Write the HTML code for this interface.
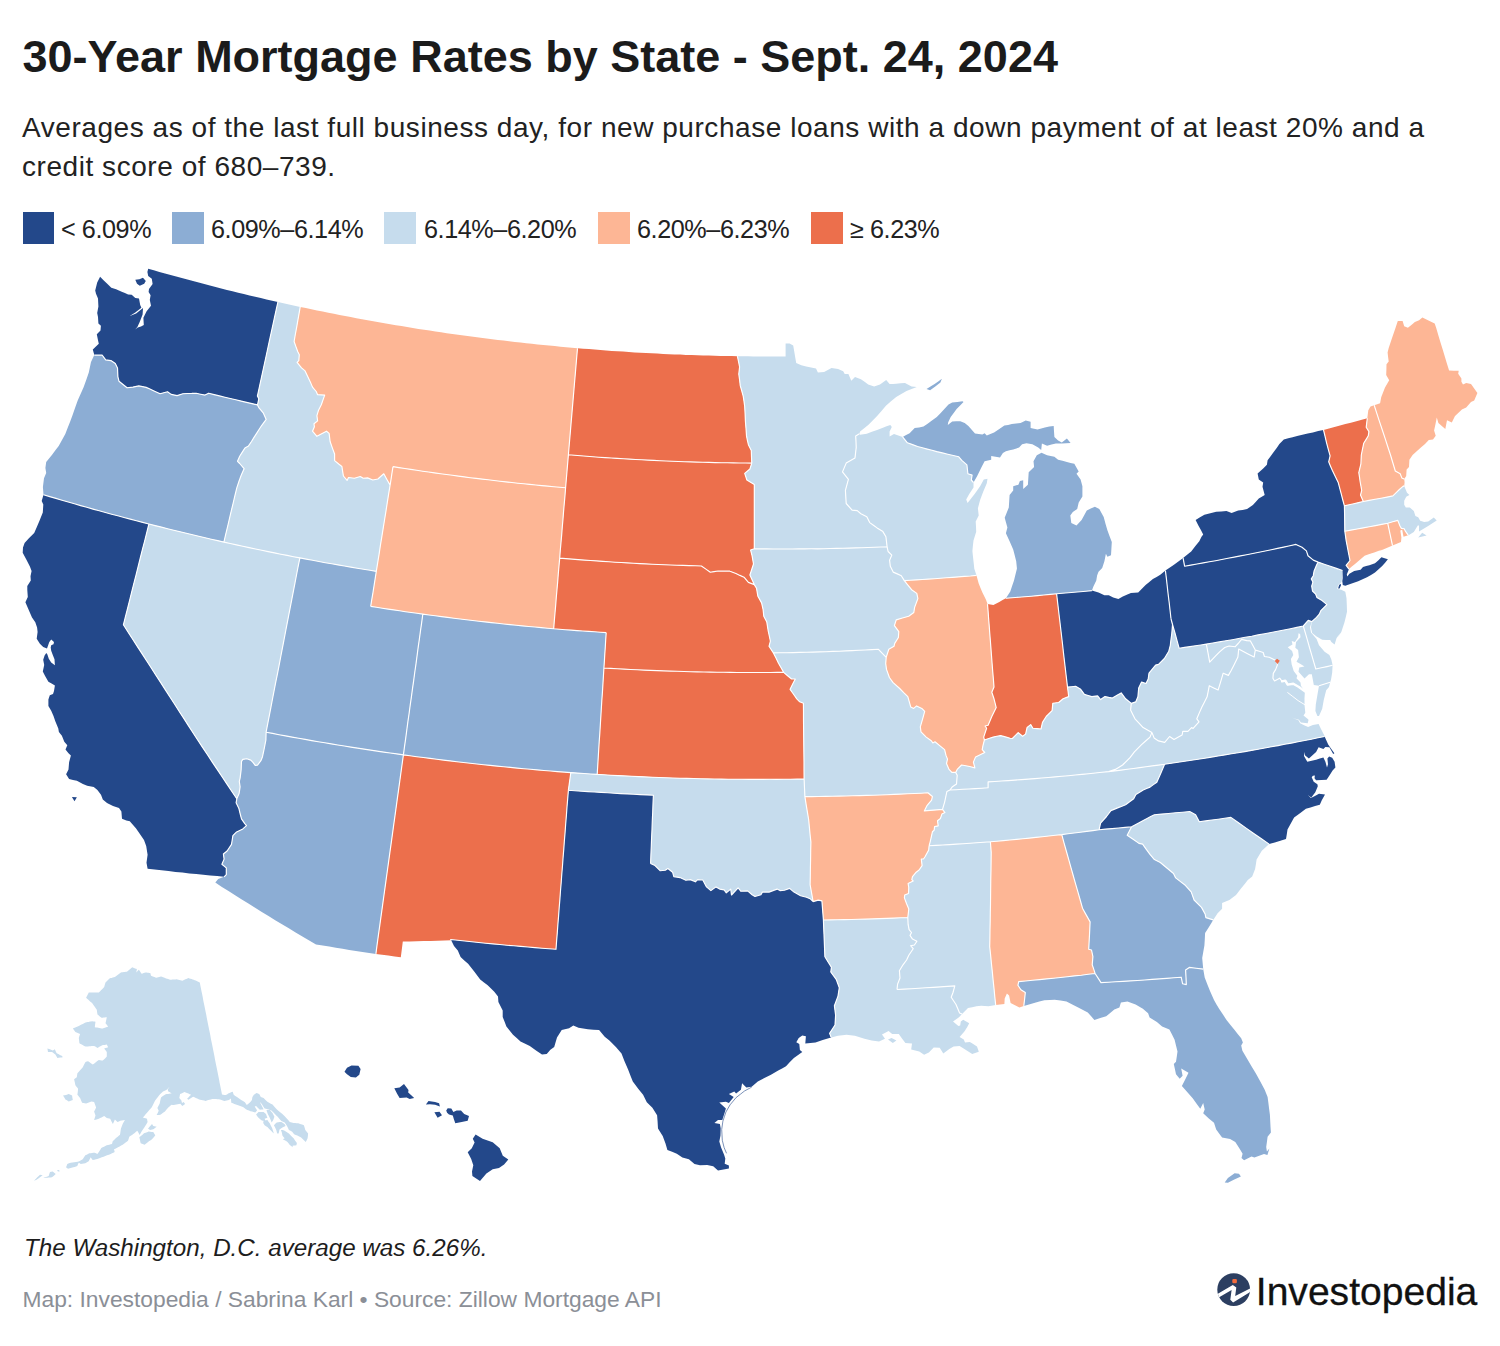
<!DOCTYPE html>
<html lang="en">
<head>
<meta charset="utf-8">
<title>30-Year Mortgage Rates by State - Sept. 24, 2024</title>
<style>
  html,body{margin:0;padding:0;background:#fff;}
  body{width:1500px;height:1346px;position:relative;overflow:hidden;font-family:"Liberation Sans",sans-serif;color:#1d1d1d;}
  .abs{position:absolute;white-space:nowrap;line-height:1;transform-origin:0 0;}
  #title{left:22.5px;top:34px;font-size:45px;font-weight:700;color:#1b1b1b;}
  #sub1{left:22px;top:113.5px;font-size:28px;letter-spacing:0.55px;color:#222;}
  #sub2{left:22px;top:152.5px;font-size:28px;letter-spacing:0.55px;color:#222;}
  .sw{position:absolute;top:212px;width:31.5px;height:31.5px;}
  .lg{font-size:25.2px;top:216.8px;letter-spacing:-0.42px;color:#222;}
  #note{left:24px;top:1235.7px;font-size:24.2px;font-style:italic;color:#1d1d1d;}
  #byline{left:22.5px;top:1288px;font-size:22.8px;color:#8b8f97;}
  #map{position:absolute;left:0;top:0;}
  #logo{position:absolute;left:0;top:0;}
</style>
</head>
<body>
<div id="title" class="abs">30-Year Mortgage Rates by State - Sept. 24, 2024</div>
<div id="sub1" class="abs">Averages as of the last full business day, for new purchase loans with a down payment of at least 20% and a</div>
<div id="sub2" class="abs">credit score of 680–739.</div>

<div class="sw" style="left:22.5px;background:#23488a"></div><div class="abs lg" id="l1" style="left:61px">&lt; 6.09%</div>
<div class="sw" style="left:172px;background:#8cadd4"></div><div class="abs lg" id="l2" style="left:211px">6.09%–6.14%</div>
<div class="sw" style="left:384px;background:#c6dced"></div><div class="abs lg" id="l3" style="left:424px">6.14%–6.20%</div>
<div class="sw" style="left:598px;background:#fdb695"></div><div class="abs lg" id="l4" style="left:637px">6.20%–6.23%</div>
<div class="sw" style="left:811px;background:#ec6f4c"></div><div class="abs lg" id="l5" style="left:850px">≥ 6.23%</div>

<svg id="map" width="1500" height="1346" viewBox="0 0 1500 1346">
<g>
<path id="WA" fill="#23488a" d="M94.3 355.1L92.8 349.4L98.8 343.8L98.0 340.2L96.8 334.2L100.5 330.6L100.9 325.8L98.4 323.4L98.0 317.0L97.2 312.9L98.4 306.5L98.0 298.5L96.0 293.7L95.2 290.5L97.2 282.5L100.1 276.8L103.8 280.5L107.5 284.1L111.3 287.7L116.1 289.3L118.9 290.5L121.7 291.7L124.9 293.1L128.1 294.5L131.7 294.7L135.3 298.1L139.0 298.5L140.2 304.9L141.4 307.7L135.3 312.5L129.3 316.3L136.1 313.6L143.0 308.1L142.6 314.5L139.8 321.8L137.4 327.0L132.5 332.6L129.7 329.8L129.3 327.4L131.3 324.2L130.1 328.2L132.5 331.4L137.8 327.4L141.0 326.4L143.8 325.0L143.4 317.8L146.6 311.3L151.0 305.7L149.8 300.1L150.6 295.3L148.6 292.1L149.0 288.9L152.6 284.1L151.8 278.8L148.2 276.0L147.4 272.0L148.2 268.7L153.8 270.3L159.4 271.9L165.0 273.5L170.6 275.0L176.2 276.6L181.8 278.1L187.4 279.6L193.0 281.1L198.7 282.6L204.3 284.1L209.9 285.6L215.6 287.0L221.2 288.5L226.9 289.9L232.5 291.3L238.2 292.7L243.8 294.0L249.5 295.4L255.2 296.7L260.8 298.1L266.5 299.4L272.2 300.7L277.9 302.0L276.1 310.2L274.3 318.4L272.5 326.7L270.7 334.9L268.9 343.2L267.1 351.5L265.3 359.8L263.5 368.0L261.7 376.3L259.9 384.6L258.1 392.9L257.4 395.9L258.8 398.8L257.5 404.9L252.0 403.6L246.6 402.4L241.2 401.1L235.8 399.8L230.3 398.5L224.9 397.2L219.5 395.9L214.1 394.6L208.7 393.2L205.0 395.1L200.6 394.2L196.2 393.2L191.8 393.4L187.4 393.5L182.9 393.7L177.1 395.6L171.2 394.4L167.5 391.8L163.8 392.7L160.1 393.7L156.8 392.2L153.5 390.7L149.9 389.0L146.2 387.4L142.5 386.6L138.8 385.9L132.9 387.1L127.1 387.8L123.0 384.5L119.0 381.2L117.9 376.8L117.5 367.9L115.3 363.5L110.9 360.6L105.7 359.9L102.1 355.0L98.2 355.1ZM135.3 279.7L139.4 279.3L143.0 277.8L145.8 280.9L144.2 283.7L139.8 285.7L137.0 283.7Z"/>
<path id="OR" fill="#8cadd4" d="M43.5 494.7L42.9 487.1L44.0 478.2L46.2 473.1L45.4 467.9L46.2 462.1L52.1 454.7L55.4 450.3L58.7 445.9L62.0 440.0L65.3 434.1L67.7 427.7L70.2 421.4L72.6 415.0L75.2 407.6L77.8 400.3L80.7 393.7L83.7 387.1L86.3 379.7L88.8 372.4L89.9 367.2L91.0 362.1L94.3 355.1L98.2 355.1L102.1 355.0L105.7 359.9L110.9 360.6L115.3 363.5L117.5 367.9L117.9 376.8L119.0 381.2L123.0 384.5L127.1 387.8L132.9 387.1L138.8 385.9L142.5 386.6L146.2 387.4L149.9 389.0L153.5 390.7L156.8 392.2L160.1 393.7L163.8 392.7L167.5 391.8L171.2 394.4L177.1 395.6L182.9 393.7L187.4 393.5L191.8 393.4L196.2 393.2L200.6 394.2L205.0 395.1L208.7 393.2L214.1 394.6L219.5 395.9L224.9 397.2L230.3 398.5L235.8 399.8L241.2 401.1L246.6 402.4L252.0 403.6L257.5 404.9L258.8 407.6L263.2 412.8L266.2 419.4L261.8 425.3L259.2 429.3L256.6 433.4L254.0 437.4L251.5 441.5L248.5 445.9L244.9 448.1L242.3 452.1L239.7 456.2L237.5 461.3L239.7 463.5L244.1 468.7L241.2 475.3L239.0 481.2L236.8 487.9L234.9 495.7L233.1 503.4L231.2 511.1L229.4 518.9L227.6 526.6L225.7 534.3L223.9 542.1L217.6 540.6L211.3 539.2L205.1 537.8L198.8 536.3L192.6 534.8L186.3 533.3L180.1 531.8L173.8 530.3L167.6 528.7L161.4 527.1L155.1 525.6L148.9 524.0L142.7 522.4L136.4 520.8L130.2 519.1L124.0 517.5L117.8 515.8L111.6 514.2L105.4 512.5L99.2 510.8L93.0 509.1L86.8 507.3L80.6 505.6L74.4 503.8L68.2 502.0L62.0 500.2L55.9 498.4L49.7 496.6Z"/>
<path id="CA" fill="#23488a" d="M147.6 868.7L146.5 862.8L147.6 854.7L146.2 845.9L144.0 840.0L139.9 834.1L135.9 828.2L130.0 821.6L129.9 821.2L126.3 820.5L122.0 818.7L121.4 811.5L119.0 807.9L113.0 806.1L107.0 803.1L102.8 799.5L101.0 794.7L97.4 789.9L93.8 786.9L87.2 785.7L82.9 783.9L76.9 780.8L73.0 779.9L69.1 779.0L66.1 774.2L68.5 769.4L69.1 762.2L70.9 755.6L68.5 753.2L65.5 749.6L67.3 745.3L64.3 741.7L61.9 735.7L58.9 732.1L58.3 728.5L55.3 721.3L53.5 716.0L51.2 710.7L48.4 706.0L48.4 699.5L49.8 695.3L53.0 693.9L54.0 691.1L54.9 685.5L51.6 683.6L48.4 681.7L45.1 676.1L42.8 671.4L44.2 664.9L43.2 659.7L44.6 655.5L46.3 652.9L47.4 654.6L48.8 658.8L51.2 662.5L54.9 665.3L54.5 659.2L52.6 654.6L51.2 650.8L50.7 647.6L51.2 645.2L53.5 644.3L54.0 641.9L51.2 639.6L49.3 641.9L47.0 648.5L43.2 647.1L39.9 643.8L36.7 638.7L37.6 632.1L37.1 627.4L35.3 622.3L32.0 617.6L28.2 608.7L25.4 602.2L27.8 597.0L27.3 590.0L27.3 585.9L30.8 580.5L30.5 576.3L31.6 570.9L29.9 566.6L26.7 560.2L22.7 552.7L23.0 547.4L24.6 543.1L28.9 538.3L34.2 532.9L36.4 528.1L39.6 520.6L42.8 512.6L43.3 504.6L41.7 500.9L43.5 494.7L49.7 496.6L55.9 498.4L62.0 500.2L68.2 502.0L74.4 503.8L80.6 505.6L86.8 507.3L93.0 509.1L99.2 510.8L105.4 512.5L111.6 514.2L117.8 515.8L124.0 517.5L130.2 519.1L136.4 520.8L142.7 522.4L148.9 524.0L146.8 532.4L144.7 540.8L142.5 549.1L140.4 557.5L138.3 565.9L136.2 574.4L134.0 582.8L131.9 591.2L129.8 599.6L127.7 608.0L125.5 616.4L123.4 624.8L128.0 632.0L132.7 639.2L137.3 646.4L142.0 653.6L146.6 660.8L151.3 668.0L155.9 675.2L160.6 682.4L165.2 689.6L169.8 696.8L174.5 704.0L179.1 711.2L183.8 718.4L188.4 725.6L193.0 732.8L197.7 740.0L202.6 747.4L207.5 754.7L212.3 762.1L217.2 769.4L222.1 776.8L227.0 784.1L231.9 791.5L236.8 798.8L236.1 802.8L238.8 808.2L240.1 813.5L241.5 818.9L244.8 823.6L246.5 825.6L242.8 828.9L236.6 831.9L232.9 835.6L232.2 840.0L231.5 844.4L227.1 851.0L223.4 854.0L224.1 859.1L221.9 864.3L226.3 867.9L226.3 874.6L224.1 876.8L217.2 876.1L210.2 875.5L203.3 874.8L196.3 874.1L189.4 873.4L182.4 872.6L175.5 871.9L168.5 871.1L161.5 870.3L154.6 869.5ZM71.9 797.1L76.9 797.3L74.5 801.3Z"/>
<path id="NV" fill="#c6dced" d="M148.9 524.0L155.1 525.6L161.4 527.1L167.6 528.7L173.8 530.3L180.1 531.8L186.3 533.3L192.6 534.8L198.8 536.3L205.1 537.8L211.3 539.2L217.6 540.6L223.9 542.1L230.2 543.5L236.5 544.9L242.8 546.2L249.1 547.6L255.5 549.0L261.8 550.3L268.1 551.6L274.5 552.9L280.8 554.2L287.2 555.4L293.5 556.7L299.9 557.9L298.2 566.2L296.6 574.5L295.0 582.8L293.4 591.1L291.8 599.4L290.2 607.6L288.6 615.9L287.0 624.2L285.4 632.5L283.8 640.8L282.2 649.1L280.6 657.5L279.0 665.8L277.4 674.1L275.7 682.4L274.1 690.7L272.5 699.0L270.9 707.3L269.3 715.6L267.7 723.9L266.1 732.2L265.9 740.0L264.2 748.7L262.5 756.7L260.9 760.7L257.5 765.1L255.2 765.4L253.2 762.7L250.8 760.1L246.8 758.7L242.8 759.4L241.5 761.4L241.1 770.1L240.1 778.1L239.3 781.4L240.1 786.8L239.1 793.5L236.8 798.8L231.9 791.5L227.0 784.1L222.1 776.8L217.2 769.4L212.3 762.1L207.5 754.7L202.6 747.4L197.7 740.0L193.0 732.8L188.4 725.6L183.8 718.4L179.1 711.2L174.5 704.0L169.8 696.8L165.2 689.6L160.6 682.4L155.9 675.2L151.3 668.0L146.6 660.8L142.0 653.6L137.3 646.4L132.7 639.2L128.0 632.0L123.4 624.8L125.5 616.4L127.7 608.0L129.8 599.6L131.9 591.2L134.0 582.8L136.2 574.4L138.3 565.9L140.4 557.5L142.5 549.1L144.7 540.8L146.8 532.4Z"/>
<path id="ID" fill="#c6dced" d="M277.9 302.0L283.5 303.2L289.0 304.5L294.6 305.7L300.2 306.9L299.0 313.8L297.8 320.7L296.6 327.6L295.3 334.5L294.1 341.5L295.9 346.6L297.8 351.8L299.3 354.7L298.8 360.6L297.1 362.4L301.5 367.9L305.1 370.9L307.7 376.4L310.3 381.9L312.5 387.1L316.2 391.5L317.6 394.7L321.2 394.9L324.7 395.1L323.0 399.9L321.3 404.7L318.4 410.6L316.9 415.7L317.6 420.9L314.0 423.8L314.4 426.8L312.5 431.2L316.9 436.3L321.7 433.8L326.5 431.2L329.1 433.4L330.1 441.5L332.4 448.1L334.6 454.0L334.6 460.6L339.0 464.3L341.9 466.5L342.6 471.2L343.4 476.0L347.1 480.4L348.5 477.5L354.4 478.2L360.3 476.5L363.2 478.2L367.6 477.9L372.8 480.0L377.9 479.0L383.8 473.8L386.9 479.5L390.1 485.1L388.7 493.7L387.3 502.3L386.0 510.9L384.6 519.5L383.2 528.2L381.8 536.8L380.4 545.4L379.1 554.1L377.7 562.7L376.3 571.4L369.9 570.3L363.5 569.3L357.2 568.2L350.8 567.1L344.4 566.0L338.0 564.9L331.7 563.8L325.3 562.7L318.9 561.5L312.6 560.3L306.2 559.1L299.9 557.9L293.5 556.7L287.2 555.4L280.8 554.2L274.5 552.9L268.1 551.6L261.8 550.3L255.5 549.0L249.1 547.6L242.8 546.2L236.5 544.9L230.2 543.5L223.9 542.1L225.7 534.3L227.6 526.6L229.4 518.9L231.2 511.1L233.1 503.4L234.9 495.7L236.8 487.9L239.0 481.2L241.2 475.3L244.1 468.7L239.7 463.5L237.5 461.3L239.7 456.2L242.3 452.1L244.9 448.1L248.5 445.9L251.5 441.5L254.0 437.4L256.6 433.4L259.2 429.3L261.8 425.3L266.2 419.4L263.2 412.8L258.8 407.6L257.5 404.9L258.8 398.8L257.4 395.9L258.1 392.9L259.9 384.6L261.7 376.3L263.5 368.0L265.3 359.8L267.1 351.5L268.9 343.2L270.7 334.9L272.5 326.7L274.3 318.4L276.1 310.2Z"/>
<path id="MT" fill="#fdb695" d="M300.2 306.9L305.8 308.1L311.4 309.3L317.0 310.4L322.7 311.6L328.3 312.7L333.9 313.8L339.5 314.9L345.1 316.0L350.7 317.1L356.4 318.2L362.0 319.2L367.6 320.2L373.3 321.2L378.9 322.3L384.5 323.2L390.2 324.2L395.8 325.2L401.5 326.1L407.1 327.1L412.8 328.0L418.4 328.9L424.1 329.8L429.7 330.6L435.4 331.5L441.0 332.3L446.7 333.2L452.4 334.0L458.0 334.8L463.7 335.6L469.4 336.3L475.1 337.1L480.7 337.8L486.4 338.5L492.1 339.3L497.8 340.0L503.5 340.6L509.1 341.3L514.8 342.0L520.5 342.6L526.2 343.2L531.9 343.8L537.6 344.4L543.3 345.0L549.0 345.6L554.7 346.1L560.4 346.7L566.1 347.2L571.8 347.7L577.5 348.2L576.8 356.3L576.1 364.5L575.4 372.7L574.7 380.8L574.0 389.0L573.3 397.2L572.6 405.4L571.9 413.6L571.2 421.8L570.5 430.1L569.8 438.3L569.1 446.5L568.4 454.8L567.7 463.0L567.0 471.2L566.3 479.5L565.6 487.7L559.7 487.2L553.7 486.7L547.7 486.1L541.7 485.6L535.8 485.0L529.8 484.4L523.8 483.8L517.9 483.2L511.9 482.5L505.9 481.9L500.0 481.2L494.0 480.5L488.1 479.8L482.1 479.1L476.2 478.4L470.2 477.7L464.3 476.9L458.3 476.1L452.4 475.3L446.4 474.5L440.5 473.7L434.5 472.9L428.6 472.0L422.7 471.2L416.7 470.3L410.8 469.4L404.9 468.5L398.9 467.6L393.0 466.6L392.0 472.8L391.1 478.9L390.1 485.1L386.9 479.5L383.8 473.8L377.9 479.0L372.8 480.0L367.6 477.9L363.2 478.2L360.3 476.5L354.4 478.2L348.5 477.5L347.1 480.4L343.4 476.0L342.6 471.2L341.9 466.5L339.0 464.3L334.6 460.6L334.6 454.0L332.4 448.1L330.1 441.5L329.1 433.4L326.5 431.2L321.7 433.8L316.9 436.3L312.5 431.2L314.4 426.8L314.0 423.8L317.6 420.9L316.9 415.7L318.4 410.6L321.3 404.7L323.0 399.9L324.7 395.1L321.2 394.9L317.6 394.7L316.2 391.5L312.5 387.1L310.3 381.9L307.7 376.4L305.1 370.9L301.5 367.9L297.1 362.4L298.8 360.6L299.3 354.7L297.8 351.8L295.9 346.6L294.1 341.5L295.3 334.5L296.6 327.6L297.8 320.7L299.0 313.8Z"/>
<path id="WY" fill="#fdb695" d="M390.1 485.1L391.1 478.9L392.0 472.8L393.0 466.6L398.9 467.6L404.9 468.5L410.8 469.4L416.7 470.3L422.7 471.2L428.6 472.0L434.5 472.9L440.5 473.7L446.4 474.5L452.4 475.3L458.3 476.1L464.3 476.9L470.2 477.7L476.2 478.4L482.1 479.1L488.1 479.8L494.0 480.5L500.0 481.2L505.9 481.9L511.9 482.5L517.9 483.2L523.8 483.8L529.8 484.4L535.8 485.0L541.7 485.6L547.7 486.1L553.7 486.7L559.7 487.2L565.6 487.7L565.0 495.5L564.3 503.3L563.6 511.1L563.0 519.0L562.3 526.8L561.7 534.6L561.0 542.4L560.3 550.3L559.7 558.1L559.0 565.9L558.3 573.8L557.7 581.6L557.0 589.5L556.3 597.3L555.7 605.1L555.0 613.0L554.3 620.9L553.7 628.7L547.4 628.2L541.2 627.6L534.9 627.0L528.7 626.5L522.4 625.9L516.2 625.2L510.0 624.6L503.7 624.0L497.5 623.3L491.3 622.6L485.0 621.9L478.8 621.2L472.6 620.5L466.3 619.8L460.1 619.0L453.9 618.2L447.7 617.4L441.5 616.6L435.2 615.8L429.0 615.0L422.8 614.1L417.0 613.3L411.2 612.5L405.4 611.7L399.6 610.8L393.8 609.9L388.1 609.1L382.3 608.2L376.5 607.3L370.7 606.4L371.8 599.4L373.0 592.4L374.1 585.4L375.2 578.4L376.3 571.4L377.7 562.7L379.1 554.1L380.4 545.4L381.8 536.8L383.2 528.2L384.6 519.5L386.0 510.9L387.3 502.3L388.7 493.7Z"/>
<path id="UT" fill="#8cadd4" d="M299.9 557.9L306.2 559.1L312.6 560.3L318.9 561.5L325.3 562.7L331.7 563.8L338.0 564.9L344.4 566.0L350.8 567.1L357.2 568.2L363.5 569.3L369.9 570.3L376.3 571.4L375.2 578.4L374.1 585.4L373.0 592.4L371.8 599.4L370.7 606.4L376.5 607.3L382.3 608.2L388.1 609.1L393.8 609.9L399.6 610.8L405.4 611.7L411.2 612.5L417.0 613.3L422.8 614.1L421.7 622.4L420.5 630.7L419.4 638.9L418.2 647.2L417.1 655.5L416.0 663.8L414.8 672.0L413.7 680.3L412.5 688.6L411.4 696.9L410.2 705.2L409.1 713.5L407.9 721.7L406.8 730.0L405.7 738.3L404.5 746.6L403.4 754.9L396.8 753.9L390.2 753.0L383.7 752.1L377.1 751.1L370.6 750.1L364.0 749.1L357.5 748.1L350.9 747.1L344.4 746.0L337.8 745.0L331.3 743.9L324.8 742.8L318.2 741.7L311.7 740.6L305.2 739.4L298.7 738.2L292.1 737.1L285.6 735.9L279.1 734.7L272.6 733.4L266.1 732.2L267.7 723.9L269.3 715.6L270.9 707.3L272.5 699.0L274.1 690.7L275.7 682.4L277.4 674.1L279.0 665.8L280.6 657.5L282.2 649.1L283.8 640.8L285.4 632.5L287.0 624.2L288.6 615.9L290.2 607.6L291.8 599.4L293.4 591.1L295.0 582.8L296.6 574.5L298.2 566.2Z"/>
<path id="CO" fill="#8cadd4" d="M422.8 614.1L429.0 615.0L435.2 615.8L441.5 616.6L447.7 617.4L453.9 618.2L460.1 619.0L466.3 619.8L472.6 620.5L478.8 621.2L485.0 621.9L491.3 622.6L497.5 623.3L503.7 624.0L510.0 624.6L516.2 625.2L522.4 625.9L528.7 626.5L534.9 627.0L541.2 627.6L547.4 628.2L553.7 628.7L559.5 629.2L565.3 629.7L571.2 630.1L577.0 630.6L582.8 631.0L588.7 631.4L594.5 631.8L600.4 632.2L606.2 632.6L605.7 639.7L605.3 646.8L604.8 653.9L604.4 660.9L603.9 668.0L603.4 676.2L602.9 684.4L602.4 692.6L601.8 700.8L601.3 708.9L600.8 717.1L600.3 725.3L599.8 733.5L599.2 741.7L598.7 749.8L598.2 758.0L597.7 766.2L597.2 774.4L590.6 774.0L584.0 773.5L577.4 773.1L570.8 772.6L564.1 772.1L557.3 771.6L550.6 771.0L543.9 770.5L537.2 769.9L530.5 769.3L523.8 768.7L517.1 768.1L510.4 767.4L503.7 766.8L497.0 766.1L490.3 765.4L483.6 764.7L476.9 764.0L470.2 763.2L463.5 762.5L456.8 761.7L450.1 760.9L443.4 760.1L436.8 759.3L430.1 758.4L423.4 757.5L416.7 756.7L410.0 755.8L403.4 754.9L404.5 746.6L405.7 738.3L406.8 730.0L407.9 721.7L409.1 713.5L410.2 705.2L411.4 696.9L412.5 688.6L413.7 680.3L414.8 672.0L416.0 663.8L417.1 655.5L418.2 647.2L419.4 638.9L420.5 630.7L421.7 622.4Z"/>
<path id="AZ" fill="#8cadd4" d="M266.1 732.2L272.6 733.4L279.1 734.7L285.6 735.9L292.1 737.1L298.7 738.2L305.2 739.4L311.7 740.6L318.2 741.7L324.8 742.8L331.3 743.9L337.8 745.0L344.4 746.0L350.9 747.1L357.5 748.1L364.0 749.1L370.6 750.1L377.1 751.1L383.7 752.1L390.2 753.0L396.8 753.9L403.4 754.9L402.2 763.5L401.0 772.2L399.8 780.9L398.6 789.6L397.4 798.2L396.2 806.9L395.0 815.6L393.8 824.2L392.6 832.9L391.4 841.6L390.2 850.2L389.0 858.9L387.8 867.5L386.6 876.2L385.4 884.8L384.2 893.5L383.0 902.1L381.8 910.8L380.6 919.4L379.4 928.1L378.2 936.7L377.0 945.3L375.9 953.9L369.2 952.9L362.5 951.9L355.9 950.9L349.2 949.9L342.6 948.8L335.9 947.7L329.3 946.6L322.7 945.5L316.0 944.4L309.2 940.4L302.4 936.4L295.6 932.4L288.8 928.3L282.0 924.2L275.2 920.2L268.5 916.1L261.8 911.9L255.1 907.8L248.4 903.6L241.8 899.5L235.1 895.3L228.5 891.1L221.9 886.9L215.3 882.6L218.2 879.0L224.1 876.8L226.3 874.6L226.3 867.9L221.9 864.3L224.1 859.1L223.4 854.0L227.1 851.0L231.5 844.4L232.2 840.0L232.9 835.6L236.6 831.9L242.8 828.9L246.5 825.6L244.8 823.6L241.5 818.9L240.1 813.5L238.8 808.2L236.1 802.8L236.8 798.8L239.1 793.5L240.1 786.8L239.3 781.4L240.1 778.1L241.1 770.1L241.5 761.4L242.8 759.4L246.8 758.7L250.8 760.1L253.2 762.7L255.2 765.4L257.5 765.1L260.9 760.7L262.5 756.7L264.2 748.7L265.9 740.0Z"/>
<path id="NM" fill="#ec6f4c" d="M403.4 754.9L410.0 755.8L416.7 756.7L423.4 757.5L430.1 758.4L436.8 759.3L443.4 760.1L450.1 760.9L456.8 761.7L463.5 762.5L470.2 763.2L476.9 764.0L483.6 764.7L490.3 765.4L497.0 766.1L503.7 766.8L510.4 767.4L517.1 768.1L523.8 768.7L530.5 769.3L537.2 769.9L543.9 770.5L550.6 771.0L557.3 771.6L564.1 772.1L570.8 772.6L570.0 778.5L569.2 784.3L568.4 790.2L567.7 798.6L567.0 807.0L566.4 815.4L565.7 823.8L565.1 832.1L564.4 840.5L563.8 848.9L563.1 857.3L562.5 865.7L561.8 874.0L561.2 882.4L560.5 890.8L559.9 899.1L559.2 907.5L558.6 915.9L557.9 924.2L557.3 932.6L556.6 940.9L556.0 949.3L548.9 948.7L541.9 948.2L534.9 947.6L527.9 947.0L520.8 946.4L513.8 945.8L506.8 945.2L499.8 944.5L492.8 943.9L485.7 943.2L478.7 942.5L471.7 941.7L464.7 941.0L457.7 940.2L450.7 939.5L451.2 940.3L444.3 940.5L437.4 940.7L430.5 940.9L423.6 941.1L416.7 941.2L409.7 941.4L402.8 941.5L401.8 949.4L400.8 957.3L394.6 956.5L388.3 955.6L382.1 954.8L375.9 953.9L377.0 945.3L378.2 936.7L379.4 928.1L380.6 919.4L381.8 910.8L383.0 902.1L384.2 893.5L385.4 884.8L386.6 876.2L387.8 867.5L389.0 858.9L390.2 850.2L391.4 841.6L392.6 832.9L393.8 824.2L395.0 815.6L396.2 806.9L397.4 798.2L398.6 789.6L399.8 780.9L401.0 772.2L402.2 763.5Z"/>
<path id="ND" fill="#ec6f4c" d="M577.5 348.2L583.2 348.7L588.9 349.1L594.6 349.6L600.3 350.0L606.0 350.4L611.7 350.9L617.4 351.3L623.1 351.6L628.8 352.0L634.5 352.4L640.2 352.7L645.9 353.0L651.6 353.3L657.3 353.6L663.1 353.9L668.8 354.2L674.5 354.4L680.2 354.6L685.9 354.9L691.6 355.1L697.3 355.3L703.1 355.4L708.8 355.6L714.5 355.7L720.2 355.9L725.9 356.0L731.6 356.1L737.4 356.2L738.5 361.5L739.6 366.8L738.8 374.1L739.6 380.0L740.3 385.9L741.8 391.0L743.2 396.2L744.0 401.3L744.7 406.5L745.1 413.8L745.4 421.2L746.0 428.5L746.5 435.9L747.4 440.3L748.4 444.7L751.3 450.6L751.5 456.8L751.8 463.1L745.6 463.0L739.5 463.0L733.4 462.9L727.3 462.8L721.2 462.7L715.1 462.6L708.9 462.4L702.8 462.3L696.7 462.1L690.6 461.9L684.5 461.7L678.4 461.5L672.2 461.3L666.1 461.0L660.0 460.7L653.9 460.4L647.8 460.1L641.7 459.8L635.6 459.5L629.5 459.1L623.4 458.8L617.2 458.4L611.1 458.0L605.0 457.6L598.9 457.2L592.8 456.7L586.7 456.2L580.6 455.8L574.5 455.3L568.4 454.8L569.1 446.5L569.8 438.3L570.5 430.1L571.2 421.8L571.9 413.6L572.6 405.4L573.3 397.2L574.0 389.0L574.7 380.8L575.4 372.7L576.1 364.5L576.8 356.3Z"/>
<path id="SD" fill="#ec6f4c" d="M568.4 454.8L574.5 455.3L580.6 455.8L586.7 456.2L592.8 456.7L598.9 457.2L605.0 457.6L611.1 458.0L617.2 458.4L623.4 458.8L629.5 459.1L635.6 459.5L641.7 459.8L647.8 460.1L653.9 460.4L660.0 460.7L666.1 461.0L672.2 461.3L678.4 461.5L684.5 461.7L690.6 461.9L696.7 462.1L702.8 462.3L708.9 462.4L715.1 462.6L721.2 462.7L727.3 462.8L733.4 462.9L739.5 463.0L745.6 463.0L751.8 463.1L749.9 469.0L744.7 473.4L746.9 480.0L750.6 482.2L754.3 484.4L754.3 492.4L754.3 500.5L754.3 508.5L754.3 516.6L754.3 524.6L754.3 532.7L754.3 540.8L754.3 548.8L750.6 550.0L752.1 555.9L753.5 564.0L751.7 569.5L749.9 575.0L752.1 579.8L754.3 584.6L748.4 582.4L744.0 577.2L739.9 575.4L735.9 573.5L730.0 571.3L729.5 571.1L723.8 571.1L718.0 571.0L714.1 571.6L710.3 572.2L705.9 569.1L701.4 566.0L695.3 565.8L689.1 565.6L682.9 565.4L676.8 565.2L670.6 565.0L664.4 564.7L658.3 564.5L652.1 564.2L645.9 563.9L639.7 563.6L633.6 563.2L627.4 562.9L621.2 562.5L615.1 562.2L608.9 561.8L602.8 561.4L596.6 560.9L590.4 560.5L584.3 560.1L578.1 559.6L572.0 559.1L565.8 558.6L559.7 558.1L560.3 550.3L561.0 542.4L561.7 534.6L562.3 526.8L563.0 519.0L563.6 511.1L564.3 503.3L565.0 495.5L565.6 487.7L566.3 479.5L567.0 471.2L567.7 463.0Z"/>
<path id="NE" fill="#ec6f4c" d="M559.7 558.1L565.8 558.6L572.0 559.1L578.1 559.6L584.3 560.1L590.4 560.5L596.6 560.9L602.8 561.4L608.9 561.8L615.1 562.2L621.2 562.5L627.4 562.9L633.6 563.2L639.7 563.6L645.9 563.9L652.1 564.2L658.3 564.5L664.4 564.7L670.6 565.0L676.8 565.2L682.9 565.4L689.1 565.6L695.3 565.8L701.4 566.0L705.9 569.1L710.3 572.2L714.1 571.6L718.0 571.0L723.8 571.1L729.5 571.1L730.0 571.3L735.9 573.5L739.9 575.4L744.0 577.2L748.4 582.4L754.3 584.6L756.5 588.2L757.9 596.3L761.6 602.9L763.1 609.6L763.8 616.2L766.8 622.1L768.2 630.9L769.3 636.0L770.4 641.2L769.0 646.3L773.4 652.9L776.0 658.1L778.5 663.2L781.1 667.8L783.7 672.4L777.0 672.4L770.4 672.5L763.7 672.5L757.0 672.5L750.4 672.5L743.7 672.5L737.1 672.5L730.4 672.4L723.7 672.3L717.1 672.2L710.4 672.1L703.8 672.0L697.1 671.9L690.4 671.7L683.8 671.5L677.1 671.3L670.5 671.1L663.8 670.9L657.2 670.6L650.5 670.4L643.8 670.1L637.2 669.8L630.5 669.5L623.9 669.1L617.2 668.8L610.6 668.4L603.9 668.0L604.4 660.9L604.8 653.9L605.3 646.8L605.7 639.7L606.2 632.6L600.4 632.2L594.5 631.8L588.7 631.4L582.8 631.0L577.0 630.6L571.2 630.1L565.3 629.7L559.5 629.2L553.7 628.7L554.3 620.9L555.0 613.0L555.7 605.1L556.3 597.3L557.0 589.5L557.7 581.6L558.3 573.8L559.0 565.9Z"/>
<path id="KS" fill="#ec6f4c" d="M603.9 668.0L610.6 668.4L617.2 668.8L623.9 669.1L630.5 669.5L637.2 669.8L643.8 670.1L650.5 670.4L657.2 670.6L663.8 670.9L670.5 671.1L677.1 671.3L683.8 671.5L690.4 671.7L697.1 671.9L703.8 672.0L710.4 672.1L717.1 672.2L723.7 672.3L730.4 672.4L737.1 672.5L743.7 672.5L750.4 672.5L757.0 672.5L763.7 672.5L770.4 672.5L777.0 672.4L783.7 672.4L787.6 675.7L791.6 679.0L795.3 679.0L792.7 684.1L790.1 689.3L793.4 694.0L796.8 698.8L799.7 701.8L803.4 703.2L803.5 711.6L803.5 720.1L803.6 728.5L803.7 736.9L803.8 745.3L803.9 753.7L804.0 762.1L804.0 770.6L804.1 779.0L797.2 779.1L790.3 779.2L783.4 779.2L776.5 779.3L769.6 779.3L762.7 779.4L755.8 779.4L748.9 779.3L742.0 779.3L735.1 779.2L728.2 779.2L721.3 779.1L714.4 779.0L707.5 778.9L700.6 778.7L693.7 778.5L686.8 778.4L679.9 778.2L673.0 778.0L666.1 777.7L659.2 777.5L652.3 777.2L645.4 776.9L638.5 776.6L631.6 776.3L624.7 775.9L617.8 775.6L610.9 775.2L604.0 774.8L597.2 774.4L597.7 766.2L598.2 758.0L598.7 749.8L599.2 741.7L599.8 733.5L600.3 725.3L600.8 717.1L601.3 708.9L601.8 700.8L602.4 692.6L602.9 684.4L603.4 676.2Z"/>
<path id="OK" fill="#c6dced" d="M570.8 772.6L577.4 773.1L584.0 773.5L590.6 774.0L597.2 774.4L604.0 774.8L610.9 775.2L617.8 775.6L624.7 775.9L631.6 776.3L638.5 776.6L645.4 776.9L652.3 777.2L659.2 777.5L666.1 777.7L673.0 778.0L679.9 778.2L686.8 778.4L693.7 778.5L700.6 778.7L707.5 778.9L714.4 779.0L721.3 779.1L728.2 779.2L735.1 779.2L742.0 779.3L748.9 779.3L755.8 779.4L762.7 779.4L769.6 779.3L776.5 779.3L783.4 779.2L790.3 779.2L797.2 779.1L804.1 779.0L804.5 787.8L804.9 796.6L806.1 804.4L807.4 812.2L808.7 820.0L809.4 827.4L810.1 834.7L810.9 842.1L810.7 850.6L810.6 859.1L810.4 867.7L810.3 876.2L810.1 884.7L811.6 893.2L813.1 901.6L810.1 898.7L806.5 897.2L800.6 895.7L794.0 892.1L789.6 888.4L784.4 890.3L780.0 890.6L777.1 889.1L773.0 890.6L769.0 892.1L762.4 892.1L760.9 894.7L755.0 896.5L752.1 894.7L747.6 890.9L741.0 891.3L738.1 887.9L731.5 895.0L730.7 889.1L726.3 892.8L724.1 889.9L719.7 889.1L716.0 886.9L710.9 890.6L706.5 886.9L702.8 880.0L697.6 879.6L695.4 881.8L690.3 879.6L685.9 880.3L680.0 877.6L673.8 876.6L672.6 872.2L667.9 868.5L665.3 870.3L660.1 870.7L655.0 865.6L650.6 863.4L650.9 854.9L651.3 846.3L651.6 837.8L652.0 829.3L652.3 820.8L652.7 812.2L653.0 803.7L653.4 795.2L646.8 794.9L640.3 794.6L633.7 794.3L627.2 793.9L620.7 793.6L614.1 793.2L607.6 792.8L601.0 792.4L594.5 792.0L588.0 791.6L581.4 791.2L574.9 790.7L568.4 790.2L569.2 784.3L570.0 778.5Z"/>
<path id="TX" fill="#23488a" d="M568.4 790.2L574.9 790.7L581.4 791.2L588.0 791.6L594.5 792.0L601.0 792.4L607.6 792.8L614.1 793.2L620.7 793.6L627.2 793.9L633.7 794.3L640.3 794.6L646.8 794.9L653.4 795.2L653.0 803.7L652.7 812.2L652.3 820.8L652.0 829.3L651.6 837.8L651.3 846.3L650.9 854.9L650.6 863.4L655.0 865.6L660.1 870.7L665.3 870.3L667.9 868.5L672.6 872.2L673.8 876.6L680.0 877.6L685.9 880.3L690.3 879.6L695.4 881.8L697.6 879.6L702.8 880.0L706.5 886.9L710.9 890.6L716.0 886.9L719.7 889.1L724.1 889.9L726.3 892.8L730.7 889.1L731.5 895.0L738.1 887.9L741.0 891.3L747.6 890.9L752.1 894.7L755.0 896.5L760.9 894.7L762.4 892.1L769.0 892.1L773.0 890.6L777.1 889.1L780.0 890.6L784.4 890.3L789.6 888.4L794.0 892.1L800.6 895.7L806.5 897.2L810.1 898.7L813.1 901.6L818.2 900.1L821.9 900.9L822.4 907.3L822.9 913.6L823.4 920.0L823.7 927.4L824.0 934.7L824.3 942.1L824.6 949.4L824.9 956.8L828.1 962.0L831.4 967.2L830.8 972.0L836.2 979.3L839.3 987.7L838.0 996.1L836.2 1000.9L834.4 1005.7L835.0 1010.5L835.6 1015.3L835.3 1020.2L835.0 1025.0L829.6 1033.4L831.2 1037.4L826.9 1038.7L822.7 1039.9L815.5 1042.6L810.4 1043.0L805.3 1043.5L805.9 1036.2L802.3 1035.6L798.7 1038.0L796.3 1042.3L799.3 1044.1L799.9 1050.1L802.3 1051.9L798.1 1054.9L793.9 1057.9L789.9 1062.1L786.0 1066.3L782.1 1068.4L778.2 1070.5L771.0 1074.7L764.4 1078.1L757.8 1081.4L751.7 1086.8L746.3 1087.4L742.1 1083.2L740.9 1089.8L736.1 1093.6L734.3 1091.6L728.9 1094.0L733.7 1097.0L728.9 1103.0L725.9 1101.8L719.3 1102.4L725.9 1108.4L724.7 1112.6L722.3 1119.9L718.0 1119.9L714.4 1122.9L719.9 1124.1L720.7 1128.3L720.5 1135.5L719.3 1141.5L721.1 1147.5L724.1 1154.8L725.3 1158.4L724.7 1163.8L728.9 1165.6L728.9 1168.6L723.5 1169.5L718.0 1170.4L713.2 1166.2L707.2 1165.0L700.0 1165.3L694.5 1164.0L688.9 1159.3L682.4 1157.4L676.8 1153.7L672.1 1151.8L667.4 1149.9L665.5 1143.4L662.7 1135.9L658.0 1128.4L657.6 1121.8L657.1 1115.3L652.4 1107.8L646.8 1102.2L643.1 1094.7L638.4 1089.1L632.8 1081.6L630.4 1075.5L628.1 1069.4L624.4 1061.0L621.5 1053.5L615.9 1047.0L609.4 1040.4L604.7 1036.7L599.1 1030.1L593.5 1029.7L587.9 1029.2L583.2 1028.5L578.5 1027.7L573.3 1025.5L569.1 1028.3L561.7 1030.1L557.0 1037.6L555.6 1042.3L554.2 1047.0L550.4 1049.8L546.7 1053.9L542.0 1054.5L536.4 1050.7L529.8 1046.0L525.2 1043.7L520.5 1041.4L516.7 1038.1L513.0 1034.8L506.4 1026.4L504.6 1021.7L502.7 1017.0L502.7 1010.5L498.4 1002.1L498.0 996.4L494.3 991.8L487.7 985.2L484.0 982.4L480.2 979.6L474.6 972.1L468.1 963.7L464.3 960.4L460.6 957.1L457.8 950.6L454.0 945.9L451.2 940.3L450.7 939.5L457.7 940.2L464.7 941.0L471.7 941.7L478.7 942.5L485.7 943.2L492.8 943.9L499.8 944.5L506.8 945.2L513.8 945.8L520.8 946.4L527.9 947.0L534.9 947.6L541.9 948.2L548.9 948.7L556.0 949.3L556.6 940.9L557.3 932.6L557.9 924.2L558.6 915.9L559.2 907.5L559.9 899.1L560.5 890.8L561.2 882.4L561.8 874.0L562.5 865.7L563.1 857.3L563.8 848.9L564.4 840.5L565.1 832.1L565.7 823.8L566.4 815.4L567.0 807.0L567.7 798.6Z"/>
<path id="MN" fill="#c6dced" d="M737.4 356.2L742.7 356.3L748.1 356.3L753.4 356.4L758.8 356.4L764.1 356.5L769.5 356.5L774.9 356.5L780.2 356.5L785.6 356.5L785.6 350.0L785.6 343.5L789.6 343.5L793.2 345.4L794.2 351.3L795.2 357.2L796.2 363.1L801.3 365.3L806.2 366.4L811.1 367.5L816.0 368.5L817.9 372.6L821.0 372.3L824.1 371.9L827.8 369.9L831.5 367.9L834.8 368.5L838.1 369.0L843.2 371.2L844.7 374.1L848.4 374.1L851.3 380.7L855.0 377.1L860.9 379.3L864.6 381.8L868.2 384.4L874.1 386.6L877.1 385.5L880.0 384.4L883.1 382.2L886.2 380.0L889.6 384.1L892.9 383.9L896.2 383.7L900.6 383.3L905.0 382.9L908.3 384.8L911.6 386.6L916.8 387.1L911.6 389.0L906.5 391.0L901.3 394.0L896.2 396.9L891.0 401.3L885.9 405.7L881.5 410.9L877.1 416.0L872.7 420.4L868.2 424.9L864.2 428.2L860.1 431.5L859.4 433.7L855.7 435.9L856.0 441.8L856.2 447.6L855.6 452.8L855.0 457.9L850.6 460.5L846.2 463.1L842.5 471.9L848.4 479.3L846.9 484.8L845.4 490.3L845.8 496.9L846.2 503.5L852.1 510.1L857.2 510.6L860.9 513.8L866.8 516.8L869.7 522.6L873.4 525.3L877.1 527.9L882.9 531.6L885.9 536.8L886.5 541.8L887.1 546.8L880.7 547.0L874.4 547.3L868.1 547.5L861.8 547.7L855.4 547.9L849.1 548.1L842.8 548.3L836.5 548.4L830.2 548.5L823.8 548.7L817.5 548.8L811.2 548.8L804.9 548.9L798.5 548.9L792.2 549.0L785.9 549.0L779.6 549.0L773.2 549.0L766.9 548.9L760.6 548.9L754.3 548.8L754.3 540.8L754.3 532.7L754.3 524.6L754.3 516.6L754.3 508.5L754.3 500.5L754.3 492.4L754.3 484.4L750.6 482.2L746.9 480.0L744.7 473.4L749.9 469.0L751.8 463.1L751.5 456.8L751.3 450.6L748.4 444.7L747.4 440.3L746.5 435.9L746.0 428.5L745.4 421.2L745.1 413.8L744.7 406.5L744.0 401.3L743.2 396.2L741.8 391.0L740.3 385.9L739.6 380.0L738.8 374.1L739.6 366.8L738.5 361.5Z"/>
<path id="IA" fill="#c6dced" d="M754.3 548.8L760.6 548.9L766.9 548.9L773.2 549.0L779.6 549.0L785.9 549.0L792.2 549.0L798.5 548.9L804.9 548.9L811.2 548.8L817.5 548.8L823.8 548.7L830.2 548.5L836.5 548.4L842.8 548.3L849.1 548.1L855.4 547.9L861.8 547.7L868.1 547.5L874.4 547.3L880.7 547.0L887.1 546.8L888.1 551.5L891.8 555.1L889.6 560.3L890.3 566.2L893.2 572.1L897.3 573.9L901.3 575.7L904.3 580.6L907.9 585.1L911.6 589.7L916.8 593.4L917.9 598.5L914.6 607.4L913.8 612.5L908.7 616.2L902.4 618.0L896.2 619.9L894.4 625.7L898.8 631.6L898.4 637.5L894.7 643.4L894.0 646.3L888.8 649.3L886.2 657.4L882.3 653.3L878.5 649.3L872.0 649.6L865.4 650.0L858.8 650.3L852.3 650.6L845.7 650.9L839.1 651.2L832.6 651.4L826.0 651.7L819.4 651.9L812.8 652.1L806.3 652.3L799.7 652.4L793.1 652.6L786.5 652.7L780.0 652.8L773.4 652.9L769.0 646.3L770.4 641.2L769.3 636.0L768.2 630.9L766.8 622.1L763.8 616.2L763.1 609.6L761.6 602.9L757.9 596.3L756.5 588.2L754.3 584.6L752.1 579.8L749.9 575.0L751.7 569.5L753.5 564.0L752.1 555.9L750.6 550.0Z"/>
<path id="MO" fill="#c6dced" d="M773.4 652.9L780.0 652.8L786.5 652.7L793.1 652.6L799.7 652.4L806.3 652.3L812.8 652.1L819.4 651.9L826.0 651.7L832.6 651.4L839.1 651.2L845.7 650.9L852.3 650.6L858.8 650.3L865.4 650.0L872.0 649.6L878.5 649.3L882.3 653.3L886.2 657.4L885.7 663.5L886.5 669.4L889.4 677.5L893.1 682.6L899.7 688.5L903.7 692.6L907.8 696.6L909.3 701.8L910.7 706.9L913.7 708.4L916.6 705.9L921.8 708.4L924.7 711.3L922.5 719.4L920.3 726.8L921.0 731.9L926.2 737.1L931.3 740.7L932.8 742.9L935.0 741.8L940.9 746.6L944.6 749.6L946.0 755.4L947.5 759.1L946.5 763.5L949.0 769.4L951.9 772.4L955.7 772.4L957.2 775.3L956.5 784.1L952.1 787.1L949.9 790.0L946.9 791.5L945.8 796.6L944.7 801.8L942.5 809.4L936.4 809.9L930.3 810.4L924.3 810.9L927.2 805.3L931.6 800.1L932.4 796.5L927.9 792.8L921.1 793.2L914.3 793.5L907.4 793.8L900.6 794.1L893.8 794.4L886.9 794.7L880.1 795.0L873.3 795.2L866.4 795.4L859.6 795.6L852.7 795.8L845.9 796.0L839.1 796.1L832.2 796.3L825.4 796.4L818.5 796.5L811.7 796.6L804.9 796.6L804.5 787.8L804.1 779.0L804.0 770.6L804.0 762.1L803.9 753.7L803.8 745.3L803.7 736.9L803.6 728.5L803.5 720.1L803.5 711.6L803.4 703.2L799.7 701.8L796.8 698.8L793.4 694.0L790.1 689.3L792.7 684.1L795.3 679.0L791.6 679.0L787.6 675.7L783.7 672.4L781.1 667.8L778.5 663.2L776.0 658.1Z"/>
<path id="AR" fill="#fdb695" d="M804.9 796.6L811.7 796.6L818.5 796.5L825.4 796.4L832.2 796.3L839.1 796.1L845.9 796.0L852.7 795.8L859.6 795.6L866.4 795.4L873.3 795.2L880.1 795.0L886.9 794.7L893.8 794.4L900.6 794.1L907.4 793.8L914.3 793.5L921.1 793.2L927.9 792.8L932.4 796.5L931.6 800.1L927.2 805.3L924.3 810.9L930.3 810.4L936.4 809.9L942.5 809.4L944.9 812.6L941.9 814.1L940.4 818.5L937.5 820.7L938.2 825.9L934.6 826.6L934.1 830.3L932.4 831.8L931.3 836.9L930.1 842.1L929.1 845.7L928.7 850.1L925.0 856.8L923.5 859.0L921.3 859.0L922.1 865.6L919.1 870.0L916.2 872.2L912.5 876.6L911.8 879.6L913.2 881.0L908.1 883.5L908.8 887.6L908.5 893.5L904.7 895.0L904.4 897.9L906.6 903.8L908.8 909.0L907.8 917.5L900.8 917.8L893.7 918.1L886.7 918.4L879.7 918.6L872.6 918.9L865.6 919.1L858.6 919.3L851.5 919.5L844.5 919.6L837.5 919.8L830.4 919.9L823.4 920.0L822.9 913.6L822.4 907.3L821.9 900.9L818.2 900.1L813.1 901.6L811.6 893.2L810.1 884.7L810.3 876.2L810.4 867.7L810.6 859.1L810.7 850.6L810.9 842.1L810.1 834.7L809.4 827.4L808.7 820.0L807.4 812.2L806.1 804.4Z"/>
<path id="LA" fill="#c6dced" d="M823.4 920.0L830.4 919.9L837.5 919.8L844.5 919.6L851.5 919.5L858.6 919.3L865.6 919.1L872.6 918.9L879.7 918.6L886.7 918.4L893.7 918.1L900.8 917.8L907.8 917.5L908.1 924.4L909.1 929.6L911.5 932.5L910.0 935.4L912.5 939.1L916.9 941.3L914.4 945.0L910.6 945.7L913.2 948.7L908.8 955.3L906.6 960.0L903.0 964.8L899.4 970.8L900.0 978.0L897.6 984.1L897.0 989.5L904.2 989.1L911.5 988.7L918.7 988.3L925.9 987.8L933.1 987.4L940.3 986.9L947.5 986.4L954.8 985.9L953.0 992.5L951.2 997.3L956.0 1004.5L959.6 1012.9L962.0 1014.1L959.0 1017.2L953.0 1021.4L958.4 1025.9L960.2 1025.6L960.8 1021.4L963.2 1019.8L969.2 1023.2L967.4 1026.8L964.4 1031.6L959.6 1037.0L963.8 1039.4L965.0 1042.4L969.8 1042.1L971.6 1043.0L977.0 1046.6L978.8 1051.7L972.2 1053.9L964.4 1049.0L959.6 1046.0L953.6 1046.4L949.3 1049.0L943.3 1053.6L939.7 1047.8L933.7 1047.6L928.9 1052.6L924.1 1054.8L919.3 1051.4L915.2 1050.5L911.2 1049.6L912.0 1043.6L905.4 1043.0L901.8 1038.2L898.8 1034.0L892.2 1034.0L888.6 1031.0L882.0 1034.6L885.0 1038.8L879.0 1041.6L871.7 1040.6L864.5 1038.8L859.7 1037.3L854.9 1035.8L850.7 1035.3L846.5 1034.8L842.3 1035.3L838.0 1035.8L831.2 1037.4L829.6 1033.4L835.0 1025.0L835.3 1020.2L835.6 1015.3L835.0 1010.5L834.4 1005.7L836.2 1000.9L838.0 996.1L839.3 987.7L836.2 979.3L830.8 972.0L831.4 967.2L828.1 962.0L824.9 956.8L824.6 949.4L824.3 942.1L824.0 934.7L823.7 927.4ZM888.0 1039.4L891.6 1038.0L896.4 1040.4L892.8 1043.0Z"/>
<path id="WI" fill="#c6dced" d="M859.4 433.7L860.1 434.7L863.5 434.2L866.8 433.7L871.9 431.8L877.1 430.0L882.9 427.8L886.6 426.3L890.3 424.9L891.8 427.1L889.6 431.5L889.6 436.6L894.0 434.1L898.3 435.5L902.6 436.9L907.4 442.8L912.5 444.6L917.6 446.5L922.4 447.8L927.2 449.1L932.0 450.3L936.8 451.6L942.3 452.9L947.8 454.2L953.3 455.5L958.8 456.8L961.8 460.4L966.9 464.9L967.4 469.3L967.9 473.7L972.1 475.1L971.3 480.0L973.5 482.5L973.5 487.6L969.1 494.3L966.2 499.4L967.6 503.1L971.3 498.3L975.0 493.5L980.1 486.2L983.8 479.6L987.5 478.8L986.8 483.2L983.1 492.1L980.1 500.1L977.9 508.2L978.7 515.6L975.7 521.5L976.0 526.6L976.2 531.8L973.5 540.6L972.9 545.7L972.4 550.9L972.9 556.0L973.5 561.2L974.3 568.8L976.5 575.4L970.5 576.0L964.4 576.4L958.4 576.9L952.4 577.4L946.4 577.8L940.4 578.3L934.4 578.7L928.3 579.1L922.3 579.5L916.3 579.9L910.3 580.2L904.3 580.6L901.3 575.7L897.3 573.9L893.2 572.1L890.3 566.2L889.6 560.3L891.8 555.1L888.1 551.5L887.1 546.8L886.5 541.8L885.9 536.8L882.9 531.6L877.1 527.9L873.4 525.3L869.7 522.6L866.8 516.8L860.9 513.8L857.2 510.6L852.1 510.1L846.2 503.5L845.8 496.9L845.4 490.3L846.9 484.8L848.4 479.3L842.5 471.9L846.2 463.1L850.6 460.5L855.0 457.9L855.6 452.8L856.2 447.6L856.0 441.8L855.7 435.9Z"/>
<path id="IL" fill="#fdb695" d="M904.3 580.6L910.3 580.2L916.3 579.9L922.3 579.5L928.3 579.1L934.4 578.7L940.4 578.3L946.4 577.8L952.4 577.4L958.4 576.9L964.4 576.4L970.5 576.0L976.5 575.4L978.7 583.5L980.5 587.9L982.4 592.4L986.0 599.7L987.5 604.1L988.1 611.3L988.6 618.5L989.2 625.6L989.7 632.8L990.3 640.0L990.9 647.8L991.5 655.7L992.1 663.5L992.7 671.4L993.4 679.2L994.0 687.1L991.8 692.2L994.0 698.8L995.1 703.2L996.2 707.6L991.8 716.5L988.1 725.3L985.1 726.0L986.6 728.2L983.7 737.1L984.4 740.0L982.9 745.9L982.2 749.6L984.7 752.5L980.2 754.7L975.6 756.9L973.4 762.1L974.9 767.9L969.7 766.5L965.7 765.7L961.6 765.0L957.2 769.4L955.7 772.4L951.9 772.4L949.0 769.4L946.5 763.5L947.5 759.1L946.0 755.4L944.6 749.6L940.9 746.6L935.0 741.8L932.8 742.9L931.3 740.7L926.2 737.1L921.0 731.9L920.3 726.8L922.5 719.4L924.7 711.3L921.8 708.4L916.6 705.9L913.7 708.4L910.7 706.9L909.3 701.8L907.8 696.6L903.7 692.6L899.7 688.5L893.1 682.6L889.4 677.5L886.5 669.4L885.7 663.5L886.2 657.4L888.8 649.3L894.0 646.3L894.7 643.4L898.4 637.5L898.8 631.6L894.4 625.7L896.2 619.9L902.4 618.0L908.7 616.2L913.8 612.5L914.6 607.4L917.9 598.5L916.8 593.4L911.6 589.7L907.9 585.1Z"/>
<path id="IN" fill="#ec6f4c" d="M987.5 604.1L993.4 604.9L999.3 601.9L1002.6 600.1L1005.9 598.2L1012.2 597.7L1018.6 597.2L1024.9 596.7L1031.3 596.2L1037.6 595.6L1043.9 595.0L1050.3 594.4L1056.6 593.8L1057.6 602.3L1058.6 610.8L1059.6 619.2L1060.6 627.7L1061.6 636.2L1062.6 644.7L1063.5 653.1L1064.5 661.6L1065.5 670.1L1066.5 678.6L1067.5 687.1L1068.1 691.8L1068.7 696.6L1063.1 698.8L1058.7 702.5L1052.8 703.2L1052.1 710.6L1046.2 716.5L1042.5 722.4L1041.0 729.0L1037.0 728.6L1032.9 728.2L1030.7 724.6L1027.1 727.5L1025.6 734.1L1022.6 736.3L1018.2 732.6L1012.4 738.5L1010.1 738.2L1005.4 736.9L1000.6 735.6L996.9 736.3L993.2 737.1L988.8 738.5L984.4 740.0L983.7 737.1L986.6 728.2L985.1 726.0L988.1 725.3L991.8 716.5L996.2 707.6L995.1 703.2L994.0 698.8L991.8 692.2L994.0 687.1L993.4 679.2L992.7 671.4L992.1 663.5L991.5 655.7L990.9 647.8L990.3 640.0L989.7 632.8L989.2 625.6L988.6 618.5L988.1 611.3Z"/>
<path id="MI" fill="#8cadd4" d="M1005.9 598.2L1010.3 591.6L1012.1 586.1L1014.0 580.6L1015.4 574.7L1016.9 568.8L1016.9 567.9L1016.2 561.2L1014.7 555.3L1013.2 549.4L1009.6 541.3L1005.9 533.2L1007.4 527.4L1006.0 522.6L1004.7 517.8L1006.8 512.6L1008.8 507.5L1009.2 501.2L1009.6 495.0L1013.2 490.6L1013.2 486.2L1018.4 484.7L1019.9 481.0L1023.2 480.3L1023.2 489.1L1027.9 484.7L1028.3 478.5L1028.7 472.2L1034.1 467.1L1033.5 461.2L1036.8 455.3L1041.5 452.8L1047.1 455.3L1050.7 456.0L1054.4 456.8L1058.1 459.7L1062.5 460.8L1066.9 461.9L1070.6 462.9L1074.3 463.8L1078.7 471.5L1076.5 473.7L1080.6 479.6L1082.4 486.2L1082.4 491.3L1082.4 496.5L1078.7 502.4L1077.2 509.0L1072.8 511.9L1070.3 515.6L1071.3 522.9L1076.5 525.6L1081.6 520.0L1084.2 515.2L1086.8 510.4L1090.8 508.6L1094.9 506.8L1099.3 509.0L1103.7 517.1L1105.5 523.7L1107.4 530.3L1109.6 536.2L1111.8 542.1L1111.4 548.7L1111.0 555.3L1107.4 556.8L1105.9 553.8L1104.4 561.2L1102.2 567.9L1101.5 568.8L1098.5 571.8L1097.1 575.4L1096.3 580.6L1093.4 586.5L1091.9 590.6L1086.0 591.2L1080.2 591.7L1074.3 592.3L1068.4 592.8L1062.5 593.3L1056.6 593.8L1050.3 594.4L1043.9 595.0L1037.6 595.6L1031.3 596.2L1024.9 596.7L1018.6 597.2L1012.2 597.7ZM902.6 436.9L906.1 435.1L909.6 433.2L914.7 428.1L919.1 427.4L923.5 426.6L927.6 423.7L931.6 420.7L936.8 417.1L940.7 412.9L944.6 408.7L948.5 404.6L952.2 402.6L957.4 402.0L962.5 401.3L963.5 402.1L960.1 405.5L956.6 409.0L953.7 413.0L950.7 417.1L948.2 422.2L947.8 425.1L952.2 421.5L956.2 421.3L960.3 421.2L964.7 422.9L968.4 425.9L975.0 433.5L978.7 434.0L982.4 434.4L984.6 433.2L986.8 435.4L990.4 434.0L994.1 432.5L999.3 429.0L1004.4 425.6L1008.1 424.9L1011.8 424.1L1016.2 423.5L1020.6 422.9L1025.7 420.4L1030.6 421.8L1030.6 428.1L1034.0 428.8L1037.5 429.6L1041.2 428.5L1044.9 427.4L1049.3 426.6L1053.7 425.9L1054.0 431.4L1054.4 436.9L1058.1 440.6L1061.8 442.5L1066.9 438.4L1070.6 443.1L1066.2 443.3L1061.8 443.5L1055.9 443.5L1051.5 444.6L1047.1 445.7L1041.9 443.5L1041.2 450.1L1038.2 447.6L1032.4 444.3L1026.5 443.2L1022.1 444.3L1019.1 447.6L1013.2 449.4L1009.6 450.3L1005.9 451.2L1002.9 453.1L1000.0 457.5L995.6 456.8L991.2 456.0L991.2 459.7L987.9 460.4L984.6 461.2L981.6 467.1L977.2 475.9L973.5 482.5L971.3 480.0L972.1 475.1L967.9 473.7L967.4 469.3L966.9 464.9L961.8 460.4L958.8 456.8L953.3 455.5L947.8 454.2L942.3 452.9L936.8 451.6L932.0 450.3L927.2 449.1L922.4 447.8L917.6 446.5L912.5 444.6L907.4 442.8ZM926.5 389.1L930.5 386.5L934.6 384.0L938.2 381.4L941.9 378.8L940.4 382.5L935.3 386.4L930.1 390.3Z"/>
<path id="OH" fill="#23488a" d="M1056.6 593.8L1062.5 593.3L1068.4 592.8L1074.3 592.3L1080.2 591.7L1086.0 591.2L1091.9 590.6L1098.5 592.4L1104.4 595.3L1108.8 595.3L1113.2 597.5L1118.4 599.0L1122.8 596.5L1126.8 594.8L1130.9 593.1L1134.6 592.7L1138.2 592.4L1141.9 588.7L1145.6 585.0L1149.3 582.1L1152.9 579.1L1156.6 576.9L1160.3 574.7L1165.4 570.6L1166.4 578.6L1167.3 586.7L1168.2 594.7L1169.2 602.7L1170.1 610.8L1171.0 618.8L1172.5 624.7L1171.8 633.5L1171.0 639.4L1170.3 645.3L1168.8 651.2L1164.4 658.5L1158.5 664.4L1155.6 665.1L1152.3 669.2L1149.0 673.2L1148.2 679.1L1146.0 683.5L1141.6 682.1L1138.7 687.9L1137.9 696.8L1135.7 701.9L1131.3 703.4L1125.6 698.8L1121.2 692.9L1117.5 695.1L1112.4 698.1L1108.7 697.4L1105.0 696.6L1100.6 699.6L1097.6 695.9L1091.8 696.6L1088.1 695.5L1084.4 694.4L1080.7 689.3L1075.6 686.3L1071.5 686.7L1067.5 687.1L1066.5 678.6L1065.5 670.1L1064.5 661.6L1063.5 653.1L1062.6 644.7L1061.6 636.2L1060.6 627.7L1059.6 619.2L1058.6 610.8L1057.6 602.3Z"/>
<path id="KY" fill="#c6dced" d="M955.7 772.4L957.2 769.4L961.6 765.0L965.7 765.7L969.7 766.5L974.9 767.9L973.4 762.1L975.6 756.9L980.2 754.7L984.7 752.5L982.2 749.6L982.9 745.9L984.4 740.0L988.8 738.5L993.2 737.1L996.9 736.3L1000.6 735.6L1005.4 736.9L1010.1 738.2L1012.4 738.5L1018.2 732.6L1022.6 736.3L1025.6 734.1L1027.1 727.5L1030.7 724.6L1032.9 728.2L1037.0 728.6L1041.0 729.0L1042.5 722.4L1046.2 716.5L1052.1 710.6L1052.8 703.2L1058.7 702.5L1063.1 698.8L1068.7 696.6L1068.1 691.8L1067.5 687.1L1071.5 686.7L1075.6 686.3L1080.7 689.3L1084.4 694.4L1088.1 695.5L1091.8 696.6L1097.6 695.9L1100.6 699.6L1105.0 696.6L1108.7 697.4L1112.4 698.1L1117.5 695.1L1121.2 692.9L1125.6 698.8L1131.3 703.4L1130.6 710.0L1132.8 714.4L1135.0 718.8L1139.0 723.2L1143.1 727.6L1147.5 730.0L1151.9 732.4L1150.0 737.1L1145.9 740.7L1141.8 744.4L1138.1 748.1L1134.4 751.8L1130.0 757.6L1126.3 761.3L1122.6 765.0L1119.0 767.2L1115.3 769.4L1108.7 771.6L1102.0 772.3L1095.3 773.0L1088.6 773.7L1081.9 774.4L1075.2 775.0L1068.5 775.7L1061.8 776.3L1055.1 776.9L1048.4 777.5L1041.7 778.0L1035.0 778.6L1028.3 779.1L1021.6 779.6L1014.9 780.1L1008.2 780.6L1001.5 781.0L994.8 781.5L988.1 781.9L988.1 787.8L981.7 788.2L975.3 788.6L969.0 789.0L962.6 789.3L956.2 789.7L949.9 790.0L952.1 787.1L956.5 784.1L957.2 775.3Z"/>
<path id="TN" fill="#c6dced" d="M949.9 790.0L956.2 789.7L962.6 789.3L969.0 789.0L975.3 788.6L981.7 788.2L988.1 787.8L988.1 781.9L994.8 781.5L1001.5 781.0L1008.2 780.6L1014.9 780.1L1021.6 779.6L1028.3 779.1L1035.0 778.6L1041.7 778.0L1048.4 777.5L1055.1 776.9L1061.8 776.3L1068.5 775.7L1075.2 775.0L1081.9 774.4L1088.6 773.7L1095.3 773.0L1102.0 772.3L1108.7 771.6L1114.9 770.9L1121.1 770.1L1127.3 769.3L1133.6 768.5L1139.8 767.6L1146.0 766.8L1152.2 765.9L1158.4 765.1L1164.6 764.2L1160.8 773.2L1156.8 782.2L1153.4 784.6L1150.0 787.1L1146.6 788.5L1143.2 790.0L1139.6 792.2L1135.9 794.4L1133.7 798.8L1129.6 801.8L1125.6 804.7L1121.9 806.2L1118.2 807.6L1114.6 809.1L1110.9 810.6L1106.5 816.5L1100.6 823.1L1099.1 829.7L1092.9 830.6L1086.7 831.4L1080.4 832.2L1074.2 833.0L1068.0 833.8L1061.8 834.6L1055.3 835.3L1048.8 836.0L1042.3 836.7L1035.8 837.4L1029.4 838.1L1022.9 838.7L1016.4 839.4L1009.9 840.0L1003.4 840.6L996.9 841.2L990.4 841.8L983.6 842.3L976.8 842.8L970.0 843.2L963.2 843.7L956.4 844.1L949.6 844.6L942.8 845.0L935.9 845.4L929.1 845.7L930.1 842.1L931.3 836.9L932.4 831.8L934.1 830.3L934.6 826.6L938.2 825.9L937.5 820.7L940.4 818.5L941.9 814.1L944.9 812.6L942.5 809.4L944.7 801.8L945.8 796.6L946.9 791.5Z"/>
<path id="MS" fill="#c6dced" d="M929.1 845.7L935.9 845.4L942.8 845.0L949.6 844.6L956.4 844.1L963.2 843.7L970.0 843.2L976.8 842.8L983.6 842.3L990.4 841.8L990.8 847.1L991.2 852.4L991.1 860.9L991.0 869.5L990.8 878.0L990.7 886.6L990.6 895.2L990.5 903.7L990.3 912.3L990.2 920.8L990.0 929.4L989.9 937.9L989.7 946.5L990.6 954.9L991.4 963.2L992.3 971.6L993.1 980.0L994.0 988.4L994.8 996.8L995.7 1005.1L988.5 1006.3L981.2 1005.7L976.4 1006.3L972.2 1007.2L968.0 1008.1L962.0 1014.1L959.6 1012.9L956.0 1004.5L951.2 997.3L953.0 992.5L954.8 985.9L947.5 986.4L940.3 986.9L933.1 987.4L925.9 987.8L918.7 988.3L911.5 988.7L904.2 989.1L897.0 989.5L897.6 984.1L900.0 978.0L899.4 970.8L903.0 964.8L906.6 960.0L908.8 955.3L913.2 948.7L910.6 945.7L914.4 945.0L916.9 941.3L912.5 939.1L910.0 935.4L911.5 932.5L909.1 929.6L908.1 924.4L907.8 917.5L908.8 909.0L906.6 903.8L904.4 897.9L904.7 895.0L908.5 893.5L908.8 887.6L908.1 883.5L913.2 881.0L911.8 879.6L912.5 876.6L916.2 872.2L919.1 870.0L922.1 865.6L921.3 859.0L923.5 859.0L925.0 856.8L928.7 850.1Z"/>
<path id="AL" fill="#fdb695" d="M990.4 841.8L996.9 841.2L1003.4 840.6L1009.9 840.0L1016.4 839.4L1022.9 838.7L1029.4 838.1L1035.8 837.4L1042.3 836.7L1048.8 836.0L1055.3 835.3L1061.8 834.6L1064.0 842.8L1066.3 851.0L1068.6 859.1L1070.9 867.3L1073.2 875.5L1075.5 883.7L1077.9 891.9L1080.2 900.0L1082.5 908.2L1086.3 915.1L1090.1 921.9L1089.8 928.4L1089.5 934.8L1089.1 942.0L1088.7 949.2L1091.5 950.0L1092.9 956.6L1092.2 964.7L1093.7 969.1L1095.1 973.5L1088.2 974.3L1081.3 975.2L1074.3 975.9L1067.4 976.7L1060.4 977.5L1053.5 978.2L1046.5 978.9L1039.6 979.6L1032.6 980.3L1025.6 981.0L1018.7 981.6L1017.9 985.3L1020.9 989.7L1025.3 992.6L1024.6 999.3L1023.8 1005.9L1019.4 1007.4L1015.0 1005.2L1010.6 1002.9L1009.1 995.6L1006.9 993.4L1004.7 998.5L1004.4 1004.1L1000.0 1004.6L995.7 1005.1L994.8 996.8L994.0 988.4L993.1 980.0L992.3 971.6L991.4 963.2L990.6 954.9L989.7 946.5L989.9 937.9L990.0 929.4L990.2 920.8L990.3 912.3L990.5 903.7L990.6 895.2L990.7 886.6L990.8 878.0L991.0 869.5L991.1 860.9L991.2 852.4L990.8 847.1Z"/>
<path id="GA" fill="#8cadd4" d="M1061.8 834.6L1068.0 833.8L1074.2 833.0L1080.4 832.2L1086.7 831.4L1092.9 830.6L1099.1 829.7L1105.6 829.1L1112.1 828.6L1118.6 828.0L1125.1 827.4L1131.6 826.8L1127.2 835.3L1133.1 839.3L1139.0 843.4L1142.6 844.1L1146.3 849.3L1150.0 854.4L1154.4 859.6L1160.3 862.5L1166.9 868.0L1173.5 873.5L1175.7 877.9L1180.5 881.6L1185.3 885.3L1191.2 891.9L1194.1 900.0L1201.5 907.4L1205.1 914.0L1205.9 917.6L1213.2 919.9L1208.8 927.2L1205.1 933.1L1204.8 939.3L1204.4 945.6L1203.3 951.8L1202.2 958.1L1202.7 963.6L1203.2 969.1L1196.2 968.2L1189.3 967.4L1185.6 969.9L1186.0 977.2L1186.3 984.6L1182.6 983.8L1181.2 977.2L1173.9 977.8L1166.6 978.4L1159.3 978.9L1152.0 979.4L1144.7 980.0L1137.5 980.5L1130.2 980.9L1122.9 981.4L1115.6 981.8L1108.3 982.2L1101.0 982.6L1098.1 978.1L1095.1 973.5L1093.7 969.1L1092.2 964.7L1092.9 956.6L1091.5 950.0L1088.7 949.2L1089.1 942.0L1089.5 934.8L1089.8 928.4L1090.1 921.9L1086.3 915.1L1082.5 908.2L1080.2 900.0L1077.9 891.9L1075.5 883.7L1073.2 875.5L1070.9 867.3L1068.6 859.1L1066.3 851.0L1064.0 842.8Z"/>
<path id="FL" fill="#8cadd4" d="M1095.1 973.5L1098.1 978.1L1101.0 982.6L1108.3 982.2L1115.6 981.8L1122.9 981.4L1130.2 980.9L1137.5 980.5L1144.7 980.0L1152.0 979.4L1159.3 978.9L1166.6 978.4L1173.9 977.8L1181.2 977.2L1182.6 983.8L1186.3 984.6L1186.0 977.2L1185.6 969.9L1189.3 967.4L1196.2 968.2L1203.2 969.1L1204.7 977.6L1207.3 984.3L1210.0 991.0L1212.0 995.5L1214.0 1000.0L1216.5 1004.4L1219.1 1008.8L1222.8 1014.3L1226.5 1019.9L1230.5 1025.0L1234.6 1030.1L1237.9 1034.2L1241.2 1038.2L1242.9 1042.6L1241.2 1045.6L1242.4 1050.7L1247.1 1058.8L1251.5 1066.2L1255.9 1073.5L1260.3 1081.6L1264.7 1089.7L1267.6 1097.1L1268.4 1102.9L1269.1 1108.8L1269.9 1114.7L1270.2 1120.6L1270.5 1126.5L1270.9 1132.4L1267.6 1136.8L1266.9 1141.9L1266.2 1147.1L1266.9 1151.5L1269.4 1148.5L1267.4 1155.1L1264.0 1154.1L1259.2 1155.7L1254.4 1157.4L1251.5 1156.6L1244.1 1160.3L1241.5 1158.1L1242.6 1153.7L1240.4 1150.0L1237.9 1146.0L1235.3 1141.9L1230.1 1139.0L1222.1 1137.5L1219.1 1133.5L1216.2 1129.4L1214.0 1122.8L1208.8 1118.4L1203.2 1113.2L1204.7 1109.6L1203.2 1102.9L1200.3 1108.8L1196.6 1103.7L1192.9 1098.5L1187.4 1092.3L1181.9 1086.0L1185.2 1079.4L1188.5 1072.8L1181.2 1068.4L1182.6 1075.7L1179.7 1078.7L1176.0 1074.3L1174.9 1069.1L1173.8 1064.0L1176.0 1061.8L1176.8 1056.6L1177.5 1051.5L1176.0 1045.6L1174.6 1039.7L1172.0 1034.6L1169.4 1029.4L1162.1 1026.5L1156.9 1022.1L1149.6 1017.6L1148.1 1013.2L1142.9 1008.8L1135.6 1004.4L1131.5 1002.9L1127.5 1001.5L1120.9 1002.6L1119.4 1007.4L1114.3 1009.6L1110.2 1012.9L1106.2 1016.2L1100.3 1018.0L1094.4 1019.9L1087.8 1012.5L1083.0 1009.9L1078.2 1007.4L1072.3 1004.4L1066.5 1001.5L1060.6 1000.6L1054.7 999.7L1049.6 1000.0L1044.4 1000.3L1039.3 1001.6L1034.1 1002.9L1029.0 1004.4L1023.8 1005.9L1024.6 999.3L1025.3 992.6L1020.9 989.7L1017.9 985.3L1018.7 981.6L1025.6 981.0L1032.6 980.3L1039.6 979.6L1046.5 978.9L1053.5 978.2L1060.4 977.5L1067.4 976.7L1074.3 975.9L1081.3 975.2L1088.2 974.3ZM1224.7 1182.4L1227.9 1177.9L1234.6 1173.2L1239.0 1173.8L1240.9 1176.5L1233.8 1179.7L1227.9 1182.8Z"/>
<path id="SC" fill="#c6dced" d="M1213.2 919.9L1205.9 917.6L1205.1 914.0L1201.5 907.4L1194.1 900.0L1191.2 891.9L1185.3 885.3L1180.5 881.6L1175.7 877.9L1173.5 873.5L1166.9 868.0L1160.3 862.5L1154.4 859.6L1150.0 854.4L1146.3 849.3L1142.6 844.1L1139.0 843.4L1133.1 839.3L1127.2 835.3L1131.6 826.8L1136.8 824.0L1141.9 821.2L1147.1 818.4L1150.7 816.5L1154.4 814.7L1161.5 814.1L1168.5 813.5L1175.6 812.8L1182.6 812.2L1189.7 811.5L1195.6 814.7L1199.3 821.8L1205.6 820.9L1211.9 820.0L1218.2 819.2L1224.6 818.3L1230.9 817.4L1238.5 822.8L1246.1 828.1L1253.7 833.5L1261.4 838.8L1269.1 844.1L1265.4 847.4L1261.8 850.7L1256.6 859.6L1255.9 864.3L1255.1 869.1L1252.2 876.5L1247.8 880.1L1244.5 884.2L1241.2 888.2L1236.0 894.9L1232.7 897.4L1229.4 900.0L1225.7 901.5L1222.1 902.9L1222.1 908.8L1217.6 913.2Z"/>
<path id="NC" fill="#23488a" d="M1099.1 829.7L1100.6 823.1L1106.5 816.5L1110.9 810.6L1114.6 809.1L1118.2 807.6L1121.9 806.2L1125.6 804.7L1129.6 801.8L1133.7 798.8L1135.9 794.4L1139.6 792.2L1143.2 790.0L1146.6 788.5L1150.0 787.1L1153.4 784.6L1156.8 782.2L1160.8 773.2L1164.6 764.2L1171.3 763.2L1178.0 762.3L1184.7 761.3L1191.4 760.3L1198.1 759.2L1204.8 758.2L1211.4 757.1L1218.1 756.0L1224.8 754.9L1231.5 753.8L1238.1 752.7L1244.8 751.6L1251.5 750.4L1258.1 749.2L1264.8 748.0L1271.4 746.8L1278.1 745.6L1284.7 744.3L1291.4 743.1L1298.0 741.8L1304.7 740.5L1311.3 739.2L1317.9 737.8L1324.6 736.5L1328.2 744.5L1331.3 748.9L1334.4 753.3L1333.2 753.9L1329.4 747.3L1325.4 746.9L1323.4 748.9L1318.6 747.3L1316.1 752.1L1312.5 755.3L1308.9 758.6L1304.9 755.3L1304.0 752.1L1304.0 756.1L1307.3 761.8L1311.7 760.8L1316.1 759.8L1319.8 758.6L1323.4 757.4L1325.4 761.8L1327.0 767.4L1328.0 764.2L1327.4 758.6L1329.1 756.5L1332.2 757.8L1334.6 761.8L1335.4 767.4L1332.6 770.6L1329.6 775.2L1326.6 779.8L1321.4 780.0L1316.1 780.2L1314.5 778.2L1314.9 775.6L1312.9 775.8L1311.7 777.2L1313.7 781.8L1317.4 784.2L1317.8 786.2L1315.3 792.2L1311.3 797.5L1307.7 795.1L1310.9 798.0L1314.9 795.9L1319.0 793.8L1325.0 794.6L1321.8 800.3L1319.8 804.7L1315.1 806.1L1310.5 807.4L1305.9 808.8L1300.0 813.2L1294.1 817.6L1290.8 823.5L1287.5 829.4L1286.8 834.2L1286.0 839.0L1280.4 840.7L1274.8 842.4L1269.1 844.1L1261.4 838.8L1253.7 833.5L1246.1 828.1L1238.5 822.8L1230.9 817.4L1224.6 818.3L1218.2 819.2L1211.9 820.0L1205.6 820.9L1199.3 821.8L1195.6 814.7L1189.7 811.5L1182.6 812.2L1175.6 812.8L1168.5 813.5L1161.5 814.1L1154.4 814.7L1150.7 816.5L1147.1 818.4L1141.9 821.2L1136.8 824.0L1131.6 826.8L1125.1 827.4L1118.6 828.0L1112.1 828.6L1105.6 829.1Z"/>
<path id="VA" fill="#c6dced" d="M1108.7 771.6L1115.3 769.4L1119.0 767.2L1122.6 765.0L1126.3 761.3L1130.0 757.6L1134.4 751.8L1138.1 748.1L1141.8 744.4L1145.9 740.7L1150.0 737.1L1151.9 732.4L1154.1 737.9L1158.5 740.9L1164.7 742.4L1169.6 736.5L1174.0 739.4L1178.0 737.2L1182.1 735.0L1182.8 731.3L1187.9 731.3L1191.6 727.6L1193.1 728.4L1199.0 721.8L1196.8 718.8L1199.3 712.9L1201.9 707.1L1204.5 701.9L1207.1 696.8L1208.2 691.3L1209.3 685.7L1213.7 687.9L1218.1 690.1L1220.7 681.7L1223.2 673.2L1228.4 675.4L1231.0 670.7L1233.5 665.9L1237.9 657.1L1238.7 649.0L1243.8 651.7L1249.0 654.4L1254.1 657.1L1255.3 650.1L1259.3 651.3L1263.2 652.5L1264.4 656.5L1269.3 657.3L1274.9 660.1L1277.3 661.7L1277.3 665.3L1275.7 669.4L1273.3 673.4L1272.9 678.2L1274.5 681.0L1279.7 678.2L1282.1 681.4L1285.3 680.6L1287.7 684.6L1293.3 683.8L1298.9 687.0L1304.9 691.4L1304.5 698.2L1304.5 704.7L1305.3 712.7L1303.5 715.5L1308.1 719.3L1308.5 719.9L1307.7 723.3L1300.9 722.5L1298.9 719.7L1295.1 718.7L1291.3 717.6L1298.5 720.2L1300.1 723.3L1304.1 725.2L1308.1 727.1L1312.9 725.0L1318.6 724.1L1321.0 728.9L1324.2 735.3L1324.6 736.5L1317.9 737.8L1311.3 739.2L1304.7 740.5L1298.0 741.8L1291.4 743.1L1284.7 744.3L1278.1 745.6L1271.4 746.8L1264.8 748.0L1258.1 749.2L1251.5 750.4L1244.8 751.6L1238.1 752.7L1231.5 753.8L1224.8 754.9L1218.1 756.0L1211.4 757.1L1204.8 758.2L1198.1 759.2L1191.4 760.3L1184.7 761.3L1178.0 762.3L1171.3 763.2L1164.6 764.2L1158.4 765.1L1152.2 765.9L1146.0 766.8L1139.8 767.6L1133.6 768.5L1127.3 769.3L1121.1 770.1L1114.9 770.9ZM1319.0 685.8L1317.4 695.0L1316.6 699.8L1315.8 704.6L1315.4 711.1L1317.4 715.9L1319.0 715.9L1322.2 708.7L1323.8 699.8L1325.0 695.0L1326.2 690.2L1329.0 687.0L1330.2 682.2L1324.6 684.0Z"/>
<path id="WV" fill="#c6dced" d="M1151.9 732.4L1147.5 730.0L1143.1 727.6L1139.0 723.2L1135.0 718.8L1132.8 714.4L1130.6 710.0L1131.3 703.4L1135.7 701.9L1137.9 696.8L1138.7 687.9L1141.6 682.1L1146.0 683.5L1148.2 679.1L1149.0 673.2L1152.3 669.2L1155.6 665.1L1158.5 664.4L1164.4 658.5L1168.8 651.2L1170.3 645.3L1171.0 639.4L1171.8 633.5L1172.5 624.7L1171.0 618.8L1173.0 626.2L1175.1 633.5L1177.1 640.9L1179.1 648.2L1184.6 647.4L1190.0 646.6L1195.4 645.8L1200.9 645.0L1206.3 644.1L1207.5 650.1L1208.6 656.2L1209.7 662.2L1212.8 658.9L1215.9 655.6L1219.6 651.9L1224.7 647.5L1229.1 646.0L1235.0 646.8L1238.2 643.5L1241.6 639.4L1246.8 640.6L1250.4 640.9L1252.9 645.5L1255.3 650.1L1254.1 657.1L1249.0 654.4L1243.8 651.7L1238.7 649.0L1237.9 657.1L1233.5 665.9L1231.0 670.7L1228.4 675.4L1223.2 673.2L1220.7 681.7L1218.1 690.1L1213.7 687.9L1209.3 685.7L1208.2 691.3L1207.1 696.8L1204.5 701.9L1201.9 707.1L1199.3 712.9L1196.8 718.8L1199.0 721.8L1193.1 728.4L1191.6 727.6L1187.9 731.3L1182.8 731.3L1182.1 735.0L1178.0 737.2L1174.0 739.4L1169.6 736.5L1164.7 742.4L1158.5 740.9L1154.1 737.9Z"/>
<path id="MD" fill="#c6dced" d="M1255.3 650.1L1252.9 645.5L1250.4 640.9L1246.8 640.6L1241.6 639.4L1238.2 643.5L1235.0 646.8L1229.1 646.0L1224.7 647.5L1219.6 651.9L1215.9 655.6L1212.8 658.9L1209.7 662.2L1208.6 656.2L1207.5 650.1L1206.3 644.1L1212.8 643.0L1219.3 641.9L1225.8 640.8L1232.3 639.7L1238.7 638.5L1245.2 637.3L1251.7 636.2L1258.1 634.9L1264.6 633.7L1271.1 632.5L1277.5 631.2L1284.0 630.0L1290.4 628.7L1296.9 627.4L1303.3 626.0L1305.4 633.2L1307.5 640.3L1309.5 647.5L1311.6 654.7L1313.7 661.8L1315.8 669.0L1321.4 667.8L1327.0 666.6L1332.6 665.3L1332.2 672.6L1331.0 679.8L1330.2 682.2L1324.6 684.0L1319.0 685.8L1313.8 685.0L1312.8 679.6L1311.8 674.2L1309.0 674.2L1304.5 678.6L1298.5 671.8L1299.3 667.4L1304.5 666.5L1300.5 664.1L1296.5 661.7L1298.9 657.3L1298.1 650.1L1295.3 647.7L1296.1 642.1L1300.5 637.3L1300.1 634.1L1298.5 633.3L1298.1 637.3L1294.9 642.1L1291.7 640.9L1292.5 644.5L1287.7 647.3L1292.1 650.9L1293.3 654.9L1290.9 658.9L1291.7 664.5L1293.7 671.0L1297.3 675.8L1296.5 678.2L1300.5 682.6L1300.9 685.8L1304.9 691.4L1298.9 687.0L1293.3 683.8L1287.7 684.6L1285.3 680.6L1282.1 681.4L1279.7 678.2L1274.5 681.0L1272.9 678.2L1273.3 673.4L1275.7 669.4L1277.3 665.3L1277.3 661.7L1274.9 660.1L1269.3 657.3L1264.4 656.5L1263.2 652.5L1259.3 651.3Z"/>
<path id="DE" fill="#c6dced" d="M1332.6 665.3L1327.0 666.6L1321.4 667.8L1315.8 669.0L1313.7 661.8L1311.6 654.7L1309.5 647.5L1307.5 640.3L1305.4 633.2L1303.3 626.0L1308.2 620.4L1311.8 621.6L1310.0 627.2L1311.0 632.5L1316.6 638.9L1319.0 645.3L1324.6 651.7L1329.4 654.9L1331.4 659.7Z"/>
<path id="PA" fill="#23488a" d="M1165.4 570.6L1169.9 567.5L1174.3 564.4L1178.7 561.2L1183.1 558.1L1184.6 566.2L1190.8 565.1L1197.0 564.0L1203.2 562.9L1209.4 561.8L1215.6 560.7L1221.8 559.5L1228.0 558.3L1234.2 557.1L1240.4 555.9L1246.6 554.7L1252.8 553.5L1259.0 552.3L1265.2 551.0L1271.3 549.7L1277.5 548.4L1283.7 547.1L1289.9 545.8L1296.0 544.4L1302.0 547.2L1306.4 550.9L1308.0 555.7L1313.3 560.1L1318.1 562.1L1316.5 565.3L1314.1 570.9L1313.3 575.7L1311.3 578.9L1312.9 582.1L1311.7 586.1L1312.5 591.0L1315.7 594.2L1316.9 597.4L1322.1 600.6L1326.9 604.6L1323.9 607.6L1320.9 610.6L1319.3 614.2L1316.5 617.4L1311.8 621.6L1308.2 620.4L1303.3 626.0L1296.9 627.4L1290.4 628.7L1284.0 630.0L1277.5 631.2L1271.1 632.5L1264.6 633.7L1258.1 634.9L1251.7 636.2L1245.2 637.3L1238.7 638.5L1232.3 639.7L1225.8 640.8L1219.3 641.9L1212.8 643.0L1206.3 644.1L1200.9 645.0L1195.4 645.8L1190.0 646.6L1184.6 647.4L1179.1 648.2L1177.1 640.9L1175.1 633.5L1173.0 626.2L1171.0 618.8L1170.1 610.8L1169.2 602.7L1168.2 594.7L1167.3 586.7L1166.4 578.6Z"/>
<path id="NJ" fill="#c6dced" d="M1318.1 562.1L1324.2 564.2L1330.3 566.3L1336.4 568.4L1342.5 570.5L1342.1 578.1L1341.5 582.1L1338.1 585.3L1337.3 589.0L1341.3 589.8L1345.3 591.8L1346.5 598.2L1346.8 605.0L1347.0 611.8L1345.8 617.0L1344.5 622.2L1341.3 631.9L1337.3 638.0L1340.4 632.8L1343.4 627.6L1340.6 632.5L1336.6 638.1L1334.6 644.5L1331.4 642.1L1330.2 640.1L1326.2 639.9L1322.2 639.7L1316.6 636.5L1312.2 632.9L1311.0 627.2L1311.8 621.6L1316.5 617.4L1319.3 614.2L1320.9 610.6L1323.9 607.6L1326.9 604.6L1322.1 600.6L1316.9 597.4L1315.7 594.2L1312.5 591.0L1311.7 586.1L1312.9 582.1L1311.3 578.9L1313.3 575.7L1314.1 570.9L1316.5 565.3Z"/>
<path id="NY" fill="#23488a" d="M1183.1 558.1L1187.1 554.8L1191.2 551.5L1195.2 546.3L1199.3 541.2L1201.5 536.8L1203.2 534.6L1200.9 530.1L1198.5 525.7L1195.6 519.9L1200.0 517.3L1204.4 514.7L1210.3 513.2L1216.2 511.8L1221.3 511.4L1226.5 511.0L1231.6 512.9L1234.9 511.8L1238.2 510.6L1242.6 509.9L1247.1 509.1L1250.0 507.1L1252.9 505.1L1255.9 501.8L1258.8 498.5L1261.8 496.7L1264.7 494.9L1262.5 486.8L1263.2 482.4L1258.8 479.4L1257.6 473.5L1260.4 471.0L1263.2 468.4L1266.9 464.7L1267.6 460.3L1270.6 456.3L1273.5 452.2L1276.5 448.2L1279.4 444.1L1283.8 439.4L1288.2 438.3L1292.6 437.2L1297.1 436.0L1302.4 434.8L1307.7 433.6L1312.9 432.4L1318.2 431.1L1323.5 429.9L1325.0 436.2L1326.5 442.6L1328.3 449.3L1330.1 455.9L1328.7 461.8L1330.5 466.2L1332.4 470.6L1335.3 476.5L1338.2 482.4L1339.7 488.2L1341.3 494.1L1342.8 500.0L1344.4 505.9L1344.6 514.4L1344.7 522.8L1344.8 531.2L1345.5 535.8L1346.1 540.4L1347.4 547.1L1348.7 553.8L1350.0 560.5L1346.1 565.3L1349.0 569.1L1347.9 571.7L1346.8 574.5L1347.3 576.5L1349.4 573.7L1354.2 570.9L1360.6 569.7L1363.0 566.9L1366.2 566.1L1369.4 565.3L1375.0 563.3L1378.2 560.5L1381.4 557.3L1387.9 559.3L1385.1 562.7L1382.2 566.1L1378.6 569.3L1375.0 572.5L1371.0 574.9L1367.0 577.3L1362.6 579.3L1358.2 581.3L1354.6 582.5L1351.0 583.7L1345.3 585.7L1342.8 584.9L1342.3 581.3L1342.7 578.1L1342.5 570.5L1336.4 568.4L1330.3 566.3L1324.2 564.2L1318.1 562.1L1313.3 560.1L1308.0 555.7L1306.4 550.9L1302.0 547.2L1296.0 544.4L1289.9 545.8L1283.7 547.1L1277.5 548.4L1271.3 549.7L1265.2 551.0L1259.0 552.3L1252.8 553.5L1246.6 554.7L1240.4 555.9L1234.2 557.1L1228.0 558.3L1221.8 559.5L1215.6 560.7L1209.4 561.8L1203.2 562.9L1197.0 564.0L1190.8 565.1L1184.6 566.2ZM1338.1 588.6L1339.1 584.9L1340.7 583.7L1341.0 585.3L1339.6 588.4Z"/>
<path id="CT" fill="#fdb695" d="M1344.8 531.2L1350.9 530.1L1357.1 529.0L1363.2 527.9L1369.3 526.7L1375.5 525.6L1381.6 524.4L1387.7 523.2L1389.3 530.7L1390.9 538.2L1392.5 545.6L1387.9 547.5L1383.2 549.4L1378.5 551.3L1382.2 549.3L1378.2 550.9L1374.2 552.5L1369.4 554.1L1364.6 555.7L1361.4 558.5L1358.2 561.3L1355.0 563.9L1351.8 566.5L1349.0 569.1L1346.1 565.3L1350.0 560.5L1348.7 553.8L1347.4 547.1L1346.1 540.4L1345.5 535.8Z"/>
<path id="RI" fill="#fdb695" d="M1387.7 523.2L1392.7 521.8L1397.8 520.4L1400.0 526.0L1401.4 528.4L1404.2 528.8L1405.4 531.2L1408.2 535.2L1403.5 536.7L1402.2 529.8L1400.3 530.4L1401.4 537.6L1401.0 542.0L1396.8 543.8L1392.5 545.6L1390.9 538.2L1389.3 530.7Z"/>
<path id="MA" fill="#c6dced" d="M1344.4 505.9L1349.1 504.8L1353.8 503.7L1358.6 502.6L1363.3 501.5L1369.2 500.4L1375.1 499.3L1381.1 498.2L1387.0 497.1L1392.9 495.9L1396.2 492.7L1399.4 489.5L1403.0 486.4L1404.2 485.9L1407.0 492.7L1409.4 495.1L1406.2 496.7L1404.2 500.7L1404.2 504.7L1405.8 507.5L1409.8 507.5L1413.8 511.1L1415.4 516.0L1418.2 517.2L1420.2 520.8L1424.2 522.0L1428.2 521.6L1433.8 517.6L1436.7 520.4L1432.4 523.2L1428.2 526.0L1423.6 528.8L1419.0 531.6L1419.0 525.6L1417.8 525.6L1413.8 532.0L1409.4 534.8L1408.2 535.2L1405.4 531.2L1404.2 528.8L1401.4 528.4L1400.0 526.0L1397.8 520.4L1392.7 521.8L1387.7 523.2L1381.6 524.4L1375.5 525.6L1369.3 526.7L1363.2 527.9L1357.1 529.0L1350.9 530.1L1344.8 531.2L1344.7 522.8L1344.6 514.4ZM1418.2 537.6L1422.2 532.8L1426.6 535.6L1422.4 536.6Z"/>
<path id="VT" fill="#ec6f4c" d="M1323.5 429.9L1329.0 428.4L1334.5 427.0L1340.0 425.6L1345.4 424.1L1350.9 422.7L1356.4 421.2L1361.8 419.7L1367.3 418.2L1366.2 427.3L1368.9 431.6L1368.3 435.8L1366.0 439.6L1363.7 443.3L1362.5 449.2L1361.3 455.0L1360.9 463.8L1358.8 472.6L1359.5 477.1L1360.1 481.5L1360.9 485.9L1361.7 490.3L1360.5 495.1L1363.3 501.5L1358.6 502.6L1353.8 503.7L1349.1 504.8L1344.4 505.9L1342.8 500.0L1341.3 494.1L1339.7 488.2L1338.2 482.4L1335.3 476.5L1332.4 470.6L1330.5 466.2L1328.7 461.8L1330.1 455.9L1328.3 449.3L1326.5 442.6L1325.0 436.2Z"/>
<path id="NH" fill="#fdb695" d="M1367.3 418.2L1368.3 410.2L1370.5 406.4L1374.2 405.3L1376.9 413.6L1379.6 421.9L1382.4 430.2L1385.1 438.4L1387.8 446.7L1390.5 455.0L1392.9 463.0L1395.3 471.0L1400.2 473.8L1401.8 477.9L1404.2 479.1L1404.6 482.3L1404.2 485.9L1403.0 486.4L1399.4 489.5L1396.2 492.7L1392.9 495.9L1387.0 497.1L1381.1 498.2L1375.1 499.3L1369.2 500.4L1363.3 501.5L1360.5 495.1L1361.7 490.3L1360.9 485.9L1360.1 481.5L1359.5 477.1L1358.8 472.6L1360.9 463.8L1361.3 455.0L1362.5 449.2L1363.7 443.3L1366.0 439.6L1368.3 435.8L1368.9 431.6L1366.2 427.3Z"/>
<path id="ME" fill="#fdb695" d="M1374.2 405.3L1377.2 404.3L1380.1 403.2L1381.2 397.3L1384.9 387.7L1389.2 380.2L1386.2 374.9L1386.4 369.5L1386.5 364.2L1388.7 361.5L1388.1 357.0L1387.6 352.4L1388.7 348.1L1391.7 339.0L1394.8 329.9L1397.8 320.9L1402.6 320.9L1404.2 326.2L1407.9 327.8L1411.4 324.9L1414.9 321.9L1419.1 320.3L1422.4 317.6L1428.5 320.6L1434.7 323.5L1436.3 328.3L1438.4 335.4L1440.5 342.4L1442.7 349.4L1444.8 356.5L1446.9 363.5L1449.1 370.6L1453.9 370.7L1458.7 370.8L1458.2 373.8L1461.4 378.6L1461.4 381.8L1463.0 384.5L1466.2 382.9L1471.0 384.0L1474.2 388.5L1477.4 393.0L1474.2 400.5L1471.0 402.1L1466.2 407.5L1461.9 409.6L1458.5 412.8L1455.0 416.0L1451.8 422.5L1447.0 420.3L1445.3 428.9L1438.4 423.0L1436.8 417.6L1435.5 424.1L1434.1 430.5L1435.7 435.8L1433.0 439.6L1428.8 440.1L1425.0 444.0L1420.9 447.6L1416.7 451.3L1412.6 455.0L1409.4 459.8L1409.0 467.0L1406.6 469.4L1406.2 475.9L1404.2 479.1L1401.8 477.9L1400.2 473.8L1395.3 471.0L1392.9 463.0L1390.5 455.0L1387.8 446.7L1385.1 438.4L1382.4 430.2L1379.6 421.9L1376.9 413.6Z"/>
<path id="AK" fill="#c6dced" d="M199.8 982.4L200.3 985.3L200.9 988.2L201.5 991.2L202.1 994.1L202.7 997.0L203.2 999.9L203.8 1002.9L204.4 1005.8L205.0 1008.7L205.6 1011.7L206.2 1014.6L206.7 1017.6L207.3 1020.5L207.9 1023.5L208.5 1026.4L209.1 1029.4L209.7 1032.3L210.3 1035.3L210.8 1038.2L211.4 1041.2L212.0 1044.1L212.6 1047.1L213.2 1050.0L213.8 1053.0L214.4 1056.0L214.9 1058.9L215.5 1061.9L216.1 1064.9L216.7 1067.8L217.3 1070.8L217.9 1073.8L218.5 1076.7L219.1 1079.7L219.6 1082.7L220.2 1085.6L220.8 1088.6L221.4 1091.6L222.0 1094.5L223.2 1094.7L224.5 1094.9L225.7 1095.1L227.0 1094.4L228.2 1093.6L229.5 1092.9L230.6 1092.5L231.7 1092.1L232.8 1091.7L233.2 1093.3L233.7 1094.8L235.3 1096.0L237.0 1097.1L238.4 1098.1L239.8 1099.0L241.2 1099.9L243.0 1101.1L244.9 1102.3L245.9 1103.7L246.8 1105.1L247.7 1104.3L248.7 1103.5L249.6 1102.8L250.8 1101.4L251.9 1099.9L252.4 1097.1L253.1 1096.0L253.8 1094.8L254.7 1094.2L255.7 1093.6L256.6 1092.9L258.0 1093.6L259.4 1094.3L260.8 1097.1L262.2 1097.6L263.6 1098.1L265.5 1099.9L267.4 1101.8L269.1 1102.8L270.8 1103.7L272.5 1104.6L274.6 1107.0L276.7 1109.3L278.6 1110.9L280.5 1112.4L282.4 1114.0L284.7 1116.3L287.0 1118.7L288.4 1120.3L289.8 1121.9L291.7 1122.4L293.6 1122.9L295.1 1123.0L296.7 1123.2L298.3 1123.3L300.1 1124.0L302.0 1124.6L303.9 1125.2L304.6 1127.6L305.3 1129.9L306.7 1131.8L308.1 1133.6L307.9 1136.0L307.6 1138.3L306.7 1140.2L305.7 1142.1L303.4 1139.7L301.1 1137.4L299.2 1136.4L297.3 1135.5L295.9 1135.0L294.5 1134.6L293.3 1133.2L292.2 1131.8L290.5 1130.8L288.9 1129.9L288.0 1128.0L287.0 1126.1L285.9 1124.3L284.7 1122.4L283.0 1121.7L281.4 1121.0L279.5 1118.9L277.7 1116.8L276.3 1115.4L274.9 1114.0L273.0 1112.1L271.1 1110.2L269.9 1109.9L268.6 1109.6L267.4 1109.3L266.0 1108.8L264.6 1108.4L263.3 1106.5L262.1 1104.6L260.8 1102.8L259.9 1102.3L261.1 1104.6L262.4 1107.0L263.6 1109.3L262.4 1109.5L261.1 1109.6L259.9 1109.8L258.0 1107.9L256.1 1106.0L254.7 1106.5L255.9 1108.4L257.1 1110.2L256.2 1111.4L255.2 1112.6L253.6 1112.1L252.1 1111.6L250.5 1111.2L249.0 1110.6L247.4 1109.9L245.9 1109.3L244.4 1108.1L243.0 1107.0L241.6 1106.5L240.2 1106.0L238.8 1105.6L237.4 1105.1L235.9 1104.5L234.4 1103.9L232.9 1103.3L231.3 1102.8L231.1 1100.6L230.9 1098.5L229.9 1099.2L229.0 1099.9L227.8 1100.2L226.7 1100.4L225.5 1100.7L224.3 1100.9L222.9 1100.5L221.5 1100.0L220.1 1099.6L218.7 1099.2L217.4 1099.2L216.1 1099.1L214.8 1099.1L213.5 1099.1L212.2 1099.0L210.9 1099.4L209.6 1099.8L208.2 1100.1L206.9 1100.5L205.6 1100.9L204.2 1100.6L202.8 1100.3L201.4 1100.0L200.0 1099.8L198.6 1099.2L197.2 1098.6L195.8 1097.9L194.5 1097.3L193.1 1096.7L191.9 1097.5L190.7 1098.2L189.6 1098.9L188.4 1099.7L187.1 1098.7L188.4 1097.4L189.7 1096.0L191.1 1094.7L189.7 1094.2L188.4 1093.6L187.0 1093.1L185.7 1092.6L184.4 1092.0L183.0 1092.7L181.5 1093.4L180.1 1094.0L179.7 1096.0L179.3 1098.0L180.4 1099.3L181.4 1100.5L182.0 1103.1L182.8 1102.6L183.7 1102.1L185.1 1104.1L183.7 1105.1L182.4 1106.1L181.4 1104.9L180.4 1103.7L179.0 1103.9L177.7 1104.2L176.4 1104.5L175.0 1104.7L173.7 1105.0L172.7 1104.9L171.7 1104.7L170.6 1105.6L169.5 1106.5L168.3 1107.4L167.2 1108.7L166.1 1110.1L165.0 1111.4L163.8 1112.3L162.7 1113.1L161.5 1113.9L160.3 1114.8L159.1 1114.9L157.8 1114.9L156.6 1115.0L157.7 1112.9L158.7 1110.7L157.4 1108.1L158.5 1105.7L159.7 1103.4L160.3 1100.4L161.0 1097.4L162.2 1096.6L163.3 1095.8L164.5 1095.1L165.7 1094.3L166.9 1094.1L168.1 1093.9L169.3 1093.8L170.5 1093.6L171.7 1093.4L170.6 1092.7L169.5 1092.0L168.3 1091.4L167.7 1089.4L168.7 1088.0L169.7 1086.7L168.6 1087.8L167.5 1088.9L166.3 1090.0L165.2 1090.5L164.1 1090.9L163.0 1091.4L161.7 1092.7L160.3 1094.0L159.0 1095.4L157.7 1097.2L156.3 1098.9L155.0 1100.7L153.9 1103.0L152.8 1105.2L151.6 1107.4L150.5 1108.7L149.3 1110.1L148.1 1111.4L147.0 1112.8L145.6 1114.3L144.3 1115.9L142.9 1117.4L144.3 1117.9L145.6 1118.3L147.0 1118.8L147.3 1120.4L147.6 1122.1L146.5 1123.9L145.4 1125.7L144.3 1127.5L142.9 1129.5L141.6 1131.5L140.6 1133.2L139.6 1134.9L138.5 1132.8L137.3 1130.7L136.0 1131.8L134.7 1132.9L133.3 1134.0L132.0 1134.9L130.7 1135.8L129.3 1136.7L128.7 1138.7L128.0 1140.7L126.7 1141.7L125.3 1142.7L124.0 1143.7L122.7 1144.7L121.1 1145.6L119.6 1146.4L118.0 1147.3L116.7 1148.0L115.3 1148.7L114.0 1149.3L114.7 1152.0L113.3 1152.7L112.0 1153.3L110.7 1154.0L108.9 1154.7L107.1 1155.3L105.3 1156.0L103.6 1156.7L101.8 1157.3L100.0 1158.0L98.7 1158.4L97.3 1158.9L96.0 1159.3L94.3 1159.7L92.7 1160.0L91.7 1158.7L90.7 1157.3L89.7 1159.3L88.7 1161.3L87.0 1162.3L85.3 1163.3L83.8 1163.6L82.2 1163.8L80.7 1164.0L79.7 1163.3L78.7 1162.7L78.0 1164.3L77.3 1166.0L76.0 1166.4L74.7 1166.9L73.3 1167.3L71.6 1167.8L69.8 1168.2L68.0 1168.7L67.0 1168.0L66.0 1167.3L66.7 1165.7L67.3 1164.0L69.0 1163.3L70.7 1162.7L72.4 1162.5L74.2 1162.2L76.0 1162.0L77.7 1161.7L79.3 1161.3L81.0 1160.3L82.7 1159.3L84.0 1157.3L85.3 1155.3L86.7 1154.7L88.0 1154.0L89.3 1153.3L90.7 1153.2L92.0 1153.0L93.3 1152.8L94.7 1152.7L96.0 1153.3L97.3 1154.0L98.3 1152.7L99.3 1151.3L100.3 1149.7L101.3 1148.0L102.7 1147.3L104.0 1146.7L105.3 1146.0L106.7 1145.3L108.0 1145.0L109.3 1144.7L110.7 1144.3L112.0 1144.0L112.7 1141.3L114.3 1139.7L116.0 1138.0L117.7 1136.7L119.3 1135.3L119.9 1134.9L120.3 1132.9L120.6 1130.8L120.9 1128.8L121.9 1126.1L122.9 1123.4L123.9 1121.8L124.9 1120.1L123.3 1120.3L121.8 1120.6L120.2 1120.8L118.9 1121.4L117.5 1122.1L116.2 1120.8L114.9 1119.4L113.9 1121.8L112.9 1124.1L111.5 1121.4L110.2 1118.8L109.1 1118.6L108.0 1118.3L106.8 1118.1L105.5 1117.1L104.2 1116.1L102.8 1116.8L101.5 1117.4L100.2 1118.1L98.8 1118.8L97.3 1119.2L95.7 1119.7L94.1 1120.1L94.8 1117.8L95.5 1115.4L94.8 1113.4L94.1 1111.4L95.2 1109.4L96.1 1107.4L95.1 1104.7L94.1 1102.1L92.8 1101.7L91.5 1101.4L90.1 1101.9L88.8 1102.4L87.5 1102.9L86.1 1103.4L84.8 1103.2L83.4 1103.0L82.1 1102.7L81.1 1100.4L80.1 1098.0L79.2 1096.9L78.3 1095.8L77.4 1094.7L77.8 1091.7L78.1 1088.7L77.2 1087.6L76.3 1086.5L75.4 1085.3L74.8 1082.3L74.1 1079.3L75.4 1078.3L76.8 1077.3L77.1 1075.3L77.4 1073.3L78.8 1071.8L80.1 1070.3L81.5 1068.8L82.8 1067.3L84.1 1064.6L85.5 1062.0L86.8 1061.6L88.1 1061.3L89.3 1062.1L90.5 1063.0L91.6 1063.8L92.8 1064.6L94.3 1063.5L95.8 1062.3L97.3 1061.1L98.8 1059.9L100.2 1060.2L101.5 1060.4L102.8 1060.6L104.2 1059.3L105.5 1057.9L106.8 1056.6L106.8 1054.3L106.8 1051.9L105.9 1050.8L105.1 1049.7L104.2 1048.6L105.5 1048.1L106.8 1047.7L108.2 1047.2L107.5 1045.9L106.8 1044.6L105.7 1044.7L104.5 1044.9L103.3 1045.1L102.2 1045.2L101.0 1045.9L99.8 1046.6L98.7 1047.3L97.5 1047.9L96.4 1047.2L95.3 1046.6L94.1 1045.9L92.9 1046.0L91.7 1046.1L90.4 1046.2L89.2 1046.3L87.9 1046.4L86.7 1046.5L85.5 1046.6L84.2 1045.9L83.0 1045.3L81.8 1044.6L80.6 1043.9L79.4 1043.2L79.1 1040.6L78.8 1037.9L79.4 1035.9L80.1 1033.9L78.9 1033.4L77.8 1032.9L76.6 1032.4L75.4 1031.9L74.5 1030.8L73.6 1029.6L72.8 1028.5L74.0 1028.0L75.2 1027.5L76.4 1026.9L77.6 1026.4L78.8 1025.9L80.1 1025.2L81.5 1024.5L82.8 1023.9L84.1 1023.2L85.5 1022.5L86.6 1022.3L87.7 1022.1L88.8 1021.9L89.9 1021.6L91.0 1021.4L92.1 1021.2L93.3 1021.4L94.4 1021.6L95.5 1021.8L95.1 1024.5L94.8 1027.2L96.0 1027.4L97.1 1027.6L98.2 1027.8L99.4 1028.0L100.5 1028.2L101.7 1028.4L102.8 1028.5L103.9 1028.1L105.0 1027.7L106.1 1027.3L107.1 1026.9L108.2 1026.5L107.3 1025.4L106.4 1024.3L105.5 1023.2L106.2 1020.2L106.8 1017.2L105.8 1017.3L104.7 1017.4L103.6 1017.6L102.6 1017.7L101.5 1017.8L100.5 1017.0L99.5 1016.2L98.5 1015.3L97.5 1014.5L97.1 1012.2L96.8 1009.8L95.9 1008.5L94.9 1007.1L94.0 1005.8L93.1 1004.5L92.1 1003.1L91.1 1002.2L90.1 1001.4L89.1 1000.5L88.1 999.6L87.1 998.7L86.1 997.8L87.5 995.1L88.8 992.4L89.9 992.5L91.0 992.5L92.1 992.5L93.3 992.5L94.4 992.5L95.5 992.5L96.6 992.5L97.7 992.4L98.8 992.4L99.9 991.4L101.0 990.3L102.1 989.2L103.1 988.2L104.2 987.1L104.8 984.7L105.5 982.4L106.5 981.4L107.5 980.4L108.5 979.4L109.5 978.4L110.6 978.1L111.7 977.9L112.7 977.6L113.8 977.3L114.9 977.1L115.9 976.3L116.9 975.5L117.9 974.7L118.9 974.0L119.9 973.2L120.9 972.4L121.9 972.3L122.9 972.2L123.9 972.1L124.9 971.9L125.9 971.8L126.9 971.7L127.8 971.0L128.7 970.3L129.6 969.5L130.5 968.8L131.4 968.0L132.2 967.3L133.2 967.7L134.1 968.0L135.0 968.4L136.0 968.7L136.9 969.0L136.6 970.7L136.3 972.4L137.2 971.5L138.0 970.6L138.9 969.7L139.8 971.0L140.7 972.4L141.6 973.7L142.6 973.4L143.6 973.1L144.6 972.7L145.6 972.4L146.5 972.5L147.5 972.7L148.4 972.8L149.4 972.9L150.3 973.0L151.0 975.7L151.8 976.1L152.7 976.4L153.6 976.7L154.5 977.1L155.4 977.4L156.3 977.7L157.2 977.5L158.2 977.2L159.1 976.9L160.1 976.7L161.0 976.4L162.0 976.8L163.0 977.2L164.0 977.6L165.0 978.0L166.1 978.4L167.1 978.7L168.2 979.0L169.3 979.4L170.3 979.7L171.4 979.7L172.4 979.6L173.4 979.5L174.4 979.5L175.4 979.4L176.4 979.3L177.4 979.6L178.4 979.8L179.4 980.0L180.4 980.2L181.4 980.5L182.4 980.7L183.4 980.2L184.4 979.8L185.4 979.3L186.4 978.9L187.4 978.4L188.4 978.0L189.5 978.4L190.5 978.7L191.6 979.0L192.7 979.4L193.7 979.7L194.7 980.2L195.7 980.6L196.7 981.1L197.7 981.5L198.7 982.0ZM47.4 1048.6L48.2 1048.8L49.1 1049.0L50.0 1049.3L50.9 1049.7L51.8 1050.1L52.7 1050.6L53.7 1049.9L54.7 1049.3L55.4 1050.6L56.0 1051.9L56.7 1053.3L57.8 1053.8L58.8 1054.3L59.9 1054.9L61.0 1055.4L62.1 1055.9L62.7 1057.3L61.4 1057.4L60.1 1057.6L58.7 1057.8L57.4 1057.9L56.4 1056.3L55.4 1054.6L54.3 1053.7L53.1 1052.8L52.0 1051.9L50.7 1051.9L49.4 1051.9L48.0 1051.9L47.7 1050.3ZM63.0 1095.4L64.5 1095.2L66.1 1095.1L67.4 1094.6L68.7 1094.0L69.9 1094.5L71.0 1094.9L72.1 1095.4L72.4 1097.7L72.8 1100.1L71.4 1100.5L70.1 1100.9L68.7 1101.4L67.6 1100.7L66.5 1100.1L65.4 1099.4L64.6 1098.0L63.8 1096.7ZM139.3 1137.3L140.9 1136.0L142.5 1134.7L144.0 1133.3L145.6 1132.8L147.1 1132.2L148.7 1131.6L150.2 1131.7L151.8 1131.9L153.3 1132.0L154.3 1133.7L155.3 1135.3L154.2 1136.7L153.1 1138.0L152.0 1139.3L150.7 1140.2L149.3 1141.1L148.0 1142.0L146.9 1142.9L145.8 1143.8L144.7 1144.7L143.3 1144.2L142.0 1143.8L140.7 1143.3L140.3 1141.7L140.0 1140.0ZM148.0 1128.7L149.3 1127.1L150.7 1125.6L152.0 1124.0L153.3 1126.0L154.4 1126.2L155.6 1126.4L156.7 1126.7L155.6 1127.6L154.4 1128.4L153.3 1129.3L152.2 1129.6L151.1 1129.8L150.0 1130.0L149.0 1129.3ZM34.0 1180.7L35.7 1179.0L37.3 1177.3L38.7 1176.0L40.0 1174.7L41.3 1175.0L42.7 1175.3L41.3 1176.3L40.0 1177.3L38.0 1178.7L36.0 1180.0ZM43.3 1178.0L45.1 1177.3L46.9 1176.7L48.7 1176.0L49.3 1174.0L50.0 1172.0L51.3 1171.8L52.7 1171.6L54.2 1172.8L55.7 1174.0L53.9 1175.7L52.0 1177.3L50.4 1177.5L48.9 1177.6L47.3 1177.7L46.0 1177.8L44.7 1177.9ZM57.3 1170.0L58.3 1170.1L59.3 1170.3L59.6 1171.6L58.6 1171.5L57.6 1171.3ZM256.1 1114.5L257.3 1113.3L258.5 1112.1L259.8 1112.1L261.1 1112.1L262.3 1112.1L263.6 1112.1L264.8 1113.0L266.0 1114.0L266.7 1115.9L267.4 1117.7L266.0 1118.2L264.6 1118.7L265.5 1121.0L264.3 1120.8L263.0 1120.7L261.8 1120.5L259.9 1118.9L258.0 1117.3L257.1 1115.9ZM263.6 1120.5L264.9 1120.4L266.1 1120.2L267.4 1120.1L268.5 1121.7L269.7 1123.3L270.9 1125.7L272.1 1128.0L273.0 1130.8L273.9 1133.6L272.5 1132.2L271.1 1130.8L269.2 1129.0L267.4 1127.1L266.0 1126.2L264.6 1125.2L263.2 1122.9ZM266.4 1110.2L267.5 1110.1L268.6 1109.9L269.7 1109.8L271.1 1111.4L272.5 1113.0L273.5 1114.9L274.4 1116.8L273.7 1118.7L273.0 1120.5L272.3 1121.5L271.6 1122.4L270.9 1120.5L270.2 1118.7L269.0 1116.3L267.8 1114.0L267.1 1112.1ZM273.9 1125.2L274.9 1124.3L275.8 1123.3L276.7 1122.4L278.3 1122.3L279.9 1122.1L281.4 1121.9L283.0 1123.1L284.7 1124.3L285.6 1126.1L284.5 1126.6L283.4 1127.1L282.4 1127.6L280.9 1128.5L279.5 1129.4L279.1 1131.5L278.6 1133.6L277.2 1133.6L276.7 1131.8L276.3 1129.9L275.1 1127.6ZM280.9 1129.9L282.6 1130.1L284.2 1130.4L286.6 1132.0L288.9 1133.6L291.2 1136.0L293.6 1138.3L295.2 1140.7L296.9 1143.0L296.4 1145.3L295.1 1145.5L293.9 1145.6L292.6 1145.8L292.6 1147.2L291.2 1146.0L289.8 1144.9L288.7 1143.5L287.5 1142.1L286.1 1141.1L284.7 1140.2L282.8 1139.2L283.8 1138.8L284.7 1138.3L283.5 1136.9L282.4 1135.5L281.9 1132.7Z"/>
<path id="HI" fill="#23488a" d="M344.5 1071.8L347.0 1067.7L351.5 1065.5L358.4 1065.8L360.6 1069.0L359.3 1074.7L355.9 1077.6L350.8 1076.9L347.0 1074.3ZM394.3 1088.3L399.6 1087.4L404.0 1083.9L408.5 1089.9L408.2 1092.4L411.0 1095.0L414.2 1097.9L409.7 1099.1L406.6 1097.5L399.6 1097.9L397.1 1093.7ZM425.9 1104.5L428.5 1100.9L435.1 1101.9L439.1 1103.2L439.9 1106.4L435.1 1104.7L430.0 1104.2ZM434.4 1112.3L439.5 1111.7L442.0 1115.2L437.6 1117.8L435.7 1114.6ZM446.2 1110.5L447.7 1108.3L451.3 1108.5L453.4 1112.1L456.6 1110.5L461.0 1110.5L464.2 1114.0L469.0 1115.9L467.7 1120.7L461.7 1121.9L455.3 1123.2L453.8 1119.0L452.8 1115.6L449.0 1114.6L447.1 1112.7ZM472.8 1138.7L475.6 1134.6L482.6 1138.7L487.6 1140.4L492.7 1142.2L499.7 1148.2L502.8 1155.8L508.3 1159.6L504.1 1164.6L499.0 1168.0L492.7 1169.3L486.4 1173.5L483.2 1177.3L480.0 1181.1L472.4 1176.0L472.0 1171.6L473.3 1165.3L471.2 1158.9L467.7 1152.3L471.8 1148.2L474.6 1142.5Z"/>
</g>
<path fill="none" stroke="#fff" stroke-width="1.15" stroke-linejoin="round" stroke-linecap="butt" d="M257.5 404.9L258.8 398.8L257.4 395.9L258.1 392.9L259.9 384.6L261.7 376.3L263.5 368.0L265.3 359.8L267.1 351.5L268.9 343.2L270.7 334.9L272.5 326.7L274.3 318.4L276.1 310.2L277.9 302.0M94.3 355.1L98.2 355.1L102.1 355.0L105.7 359.9L110.9 360.6L115.3 363.5L117.5 367.9L117.9 376.8L119.0 381.2L123.0 384.5L127.1 387.8L132.9 387.1L138.8 385.9L142.5 386.6L146.2 387.4L149.9 389.0L153.5 390.7L156.8 392.2L160.1 393.7L163.8 392.7L167.5 391.8L171.2 394.4L177.1 395.6L182.9 393.7L187.4 393.5L191.8 393.4L196.2 393.2L200.6 394.2L205.0 395.1L208.7 393.2L214.1 394.6L219.5 395.9L224.9 397.2L230.3 398.5L235.8 399.8L241.2 401.1L246.6 402.4L252.0 403.6L257.5 404.9M257.5 404.9L258.8 407.6L263.2 412.8L266.2 419.4L261.8 425.3L259.2 429.3L256.6 433.4L254.0 437.4L251.5 441.5L248.5 445.9L244.9 448.1L242.3 452.1L239.7 456.2L237.5 461.3L239.7 463.5L244.1 468.7L241.2 475.3L239.0 481.2L236.8 487.9L234.9 495.7L233.1 503.4L231.2 511.1L229.4 518.9L227.6 526.6L225.7 534.3L223.9 542.1M148.9 524.0L155.1 525.6L161.4 527.1L167.6 528.7L173.8 530.3L180.1 531.8L186.3 533.3L192.6 534.8L198.8 536.3L205.1 537.8L211.3 539.2L217.6 540.6L223.9 542.1M43.5 494.7L49.7 496.6L55.9 498.4L62.0 500.2L68.2 502.0L74.4 503.8L80.6 505.6L86.8 507.3L93.0 509.1L99.2 510.8L105.4 512.5L111.6 514.2L117.8 515.8L124.0 517.5L130.2 519.1L136.4 520.8L142.7 522.4L148.9 524.0M148.9 524.0L146.8 532.4L144.7 540.8L142.5 549.1L140.4 557.5L138.3 565.9L136.2 574.4L134.0 582.8L131.9 591.2L129.8 599.6L127.7 608.0L125.5 616.4L123.4 624.8L128.0 632.0L132.7 639.2L137.3 646.4L142.0 653.6L146.6 660.8L151.3 668.0L155.9 675.2L160.6 682.4L165.2 689.6L169.8 696.8L174.5 704.0L179.1 711.2L183.8 718.4L188.4 725.6L193.0 732.8L197.7 740.0L202.6 747.4L207.5 754.7L212.3 762.1L217.2 769.4L222.1 776.8L227.0 784.1L231.9 791.5L236.8 798.8M236.8 798.8L236.1 802.8L238.8 808.2L240.1 813.5L241.5 818.9L244.8 823.6L246.5 825.6L242.8 828.9L236.6 831.9L232.9 835.6L232.2 840.0L231.5 844.4L227.1 851.0L223.4 854.0L224.1 859.1L221.9 864.3L226.3 867.9L226.3 874.6L224.1 876.8M223.9 542.1L230.2 543.5L236.5 544.9L242.8 546.2L249.1 547.6L255.5 549.0L261.8 550.3L268.1 551.6L274.5 552.9L280.8 554.2L287.2 555.4L293.5 556.7L299.9 557.9M299.9 557.9L298.2 566.2L296.6 574.5L295.0 582.8L293.4 591.1L291.8 599.4L290.2 607.6L288.6 615.9L287.0 624.2L285.4 632.5L283.8 640.8L282.2 649.1L280.6 657.5L279.0 665.8L277.4 674.1L275.7 682.4L274.1 690.7L272.5 699.0L270.9 707.3L269.3 715.6L267.7 723.9L266.1 732.2M266.1 732.2L265.9 740.0L264.2 748.7L262.5 756.7L260.9 760.7L257.5 765.1L255.2 765.4L253.2 762.7L250.8 760.1L246.8 758.7L242.8 759.4L241.5 761.4L241.1 770.1L240.1 778.1L239.3 781.4L240.1 786.8L239.1 793.5L236.8 798.8M300.2 306.9L299.0 313.8L297.8 320.7L296.6 327.6L295.3 334.5L294.1 341.5L295.9 346.6L297.8 351.8L299.3 354.7L298.8 360.6L297.1 362.4L301.5 367.9L305.1 370.9L307.7 376.4L310.3 381.9L312.5 387.1L316.2 391.5L317.6 394.7L321.2 394.9L324.7 395.1L323.0 399.9L321.3 404.7L318.4 410.6L316.9 415.7L317.6 420.9L314.0 423.8L314.4 426.8L312.5 431.2L316.9 436.3L321.7 433.8L326.5 431.2L329.1 433.4L330.1 441.5L332.4 448.1L334.6 454.0L334.6 460.6L339.0 464.3L341.9 466.5L342.6 471.2L343.4 476.0L347.1 480.4L348.5 477.5L354.4 478.2L360.3 476.5L363.2 478.2L367.6 477.9L372.8 480.0L377.9 479.0L383.8 473.8L386.9 479.5L390.1 485.1M390.1 485.1L388.7 493.7L387.3 502.3L386.0 510.9L384.6 519.5L383.2 528.2L381.8 536.8L380.4 545.4L379.1 554.1L377.7 562.7L376.3 571.4M299.9 557.9L306.2 559.1L312.6 560.3L318.9 561.5L325.3 562.7L331.7 563.8L338.0 564.9L344.4 566.0L350.8 567.1L357.2 568.2L363.5 569.3L369.9 570.3L376.3 571.4M577.5 348.2L576.8 356.3L576.1 364.5L575.4 372.7L574.7 380.8L574.0 389.0L573.3 397.2L572.6 405.4L571.9 413.6L571.2 421.8L570.5 430.1L569.8 438.3L569.1 446.5L568.4 454.8M568.4 454.8L567.7 463.0L567.0 471.2L566.3 479.5L565.6 487.7M393.0 466.6L398.9 467.6L404.9 468.5L410.8 469.4L416.7 470.3L422.7 471.2L428.6 472.0L434.5 472.9L440.5 473.7L446.4 474.5L452.4 475.3L458.3 476.1L464.3 476.9L470.2 477.7L476.2 478.4L482.1 479.1L488.1 479.8L494.0 480.5L500.0 481.2L505.9 481.9L511.9 482.5L517.9 483.2L523.8 483.8L529.8 484.4L535.8 485.0L541.7 485.6L547.7 486.1L553.7 486.7L559.7 487.2L565.6 487.7M390.1 485.1L391.1 478.9L392.0 472.8L393.0 466.6M565.6 487.7L565.0 495.5L564.3 503.3L563.6 511.1L563.0 519.0L562.3 526.8L561.7 534.6L561.0 542.4L560.3 550.3L559.7 558.1M559.7 558.1L559.0 565.9L558.3 573.8L557.7 581.6L557.0 589.5L556.3 597.3L555.7 605.1L555.0 613.0L554.3 620.9L553.7 628.7M422.8 614.1L429.0 615.0L435.2 615.8L441.5 616.6L447.7 617.4L453.9 618.2L460.1 619.0L466.3 619.8L472.6 620.5L478.8 621.2L485.0 621.9L491.3 622.6L497.5 623.3L503.7 624.0L510.0 624.6L516.2 625.2L522.4 625.9L528.7 626.5L534.9 627.0L541.2 627.6L547.4 628.2L553.7 628.7M370.7 606.4L376.5 607.3L382.3 608.2L388.1 609.1L393.8 609.9L399.6 610.8L405.4 611.7L411.2 612.5L417.0 613.3L422.8 614.1M376.3 571.4L375.2 578.4L374.1 585.4L373.0 592.4L371.8 599.4L370.7 606.4M422.8 614.1L421.7 622.4L420.5 630.7L419.4 638.9L418.2 647.2L417.1 655.5L416.0 663.8L414.8 672.0L413.7 680.3L412.5 688.6L411.4 696.9L410.2 705.2L409.1 713.5L407.9 721.7L406.8 730.0L405.7 738.3L404.5 746.6L403.4 754.9M266.1 732.2L272.6 733.4L279.1 734.7L285.6 735.9L292.1 737.1L298.7 738.2L305.2 739.4L311.7 740.6L318.2 741.7L324.8 742.8L331.3 743.9L337.8 745.0L344.4 746.0L350.9 747.1L357.5 748.1L364.0 749.1L370.6 750.1L377.1 751.1L383.7 752.1L390.2 753.0L396.8 753.9L403.4 754.9M553.7 628.7L559.5 629.2L565.3 629.7L571.2 630.1L577.0 630.6L582.8 631.0L588.7 631.4L594.5 631.8L600.4 632.2L606.2 632.6M606.2 632.6L605.7 639.7L605.3 646.8L604.8 653.9L604.4 660.9L603.9 668.0M603.9 668.0L603.4 676.2L602.9 684.4L602.4 692.6L601.8 700.8L601.3 708.9L600.8 717.1L600.3 725.3L599.8 733.5L599.2 741.7L598.7 749.8L598.2 758.0L597.7 766.2L597.2 774.4M570.8 772.6L577.4 773.1L584.0 773.5L590.6 774.0L597.2 774.4M403.4 754.9L410.0 755.8L416.7 756.7L423.4 757.5L430.1 758.4L436.8 759.3L443.4 760.1L450.1 760.9L456.8 761.7L463.5 762.5L470.2 763.2L476.9 764.0L483.6 764.7L490.3 765.4L497.0 766.1L503.7 766.8L510.4 767.4L517.1 768.1L523.8 768.7L530.5 769.3L537.2 769.9L543.9 770.5L550.6 771.0L557.3 771.6L564.1 772.1L570.8 772.6M403.4 754.9L402.2 763.5L401.0 772.2L399.8 780.9L398.6 789.6L397.4 798.2L396.2 806.9L395.0 815.6L393.8 824.2L392.6 832.9L391.4 841.6L390.2 850.2L389.0 858.9L387.8 867.5L386.6 876.2L385.4 884.8L384.2 893.5L383.0 902.1L381.8 910.8L380.6 919.4L379.4 928.1L378.2 936.7L377.0 945.3L375.9 953.9M568.4 790.2L569.2 784.3L570.0 778.5L570.8 772.6M451.2 940.3L450.7 939.5L457.7 940.2L464.7 941.0L471.7 941.7L478.7 942.5L485.7 943.2L492.8 943.9L499.8 944.5L506.8 945.2L513.8 945.8L520.8 946.4L527.9 947.0L534.9 947.6L541.9 948.2L548.9 948.7L556.0 949.3L556.6 940.9L557.3 932.6L557.9 924.2L558.6 915.9L559.2 907.5L559.9 899.1L560.5 890.8L561.2 882.4L561.8 874.0L562.5 865.7L563.1 857.3L563.8 848.9L564.4 840.5L565.1 832.1L565.7 823.8L566.4 815.4L567.0 807.0L567.7 798.6L568.4 790.2M737.4 356.2L738.5 361.5L739.6 366.8L738.8 374.1L739.6 380.0L740.3 385.9L741.8 391.0L743.2 396.2L744.0 401.3L744.7 406.5L745.1 413.8L745.4 421.2L746.0 428.5L746.5 435.9L747.4 440.3L748.4 444.7L751.3 450.6L751.5 456.8L751.8 463.1M568.4 454.8L574.5 455.3L580.6 455.8L586.7 456.2L592.8 456.7L598.9 457.2L605.0 457.6L611.1 458.0L617.2 458.4L623.4 458.8L629.5 459.1L635.6 459.5L641.7 459.8L647.8 460.1L653.9 460.4L660.0 460.7L666.1 461.0L672.2 461.3L678.4 461.5L684.5 461.7L690.6 461.9L696.7 462.1L702.8 462.3L708.9 462.4L715.1 462.6L721.2 462.7L727.3 462.8L733.4 462.9L739.5 463.0L745.6 463.0L751.8 463.1M751.8 463.1L749.9 469.0L744.7 473.4L746.9 480.0L750.6 482.2L754.3 484.4L754.3 492.4L754.3 500.5L754.3 508.5L754.3 516.6L754.3 524.6L754.3 532.7L754.3 540.8L754.3 548.8M754.3 548.8L750.6 550.0L752.1 555.9L753.5 564.0L751.7 569.5L749.9 575.0L752.1 579.8L754.3 584.6M559.7 558.1L565.8 558.6L572.0 559.1L578.1 559.6L584.3 560.1L590.4 560.5L596.6 560.9L602.8 561.4L608.9 561.8L615.1 562.2L621.2 562.5L627.4 562.9L633.6 563.2L639.7 563.6L645.9 563.9L652.1 564.2L658.3 564.5L664.4 564.7L670.6 565.0L676.8 565.2L682.9 565.4L689.1 565.6L695.3 565.8L701.4 566.0L705.9 569.1L710.3 572.2L714.1 571.6L718.0 571.0L723.8 571.1L729.5 571.1L730.0 571.3L735.9 573.5L739.9 575.4L744.0 577.2L748.4 582.4L754.3 584.6M754.3 584.6L756.5 588.2L757.9 596.3L761.6 602.9L763.1 609.6L763.8 616.2L766.8 622.1L768.2 630.9L769.3 636.0L770.4 641.2L769.0 646.3L773.4 652.9M773.4 652.9L776.0 658.1L778.5 663.2L781.1 667.8L783.7 672.4M603.9 668.0L610.6 668.4L617.2 668.8L623.9 669.1L630.5 669.5L637.2 669.8L643.8 670.1L650.5 670.4L657.2 670.6L663.8 670.9L670.5 671.1L677.1 671.3L683.8 671.5L690.4 671.7L697.1 671.9L703.8 672.0L710.4 672.1L717.1 672.2L723.7 672.3L730.4 672.4L737.1 672.5L743.7 672.5L750.4 672.5L757.0 672.5L763.7 672.5L770.4 672.5L777.0 672.4L783.7 672.4M783.7 672.4L787.6 675.7L791.6 679.0L795.3 679.0L792.7 684.1L790.1 689.3L793.4 694.0L796.8 698.8L799.7 701.8L803.4 703.2L803.5 711.6L803.5 720.1L803.6 728.5L803.7 736.9L803.8 745.3L803.9 753.7L804.0 762.1L804.0 770.6L804.1 779.0M597.2 774.4L604.0 774.8L610.9 775.2L617.8 775.6L624.7 775.9L631.6 776.3L638.5 776.6L645.4 776.9L652.3 777.2L659.2 777.5L666.1 777.7L673.0 778.0L679.9 778.2L686.8 778.4L693.7 778.5L700.6 778.7L707.5 778.9L714.4 779.0L721.3 779.1L728.2 779.2L735.1 779.2L742.0 779.3L748.9 779.3L755.8 779.4L762.7 779.4L769.6 779.3L776.5 779.3L783.4 779.2L790.3 779.2L797.2 779.1L804.1 779.0M804.1 779.0L804.5 787.8L804.9 796.6M804.9 796.6L806.1 804.4L807.4 812.2L808.7 820.0L809.4 827.4L810.1 834.7L810.9 842.1L810.7 850.6L810.6 859.1L810.4 867.7L810.3 876.2L810.1 884.7L811.6 893.2L813.1 901.6M650.6 863.4L655.0 865.6L660.1 870.7L665.3 870.3L667.9 868.5L672.6 872.2L673.8 876.6L680.0 877.6L685.9 880.3L690.3 879.6L695.4 881.8L697.6 879.6L702.8 880.0L706.5 886.9L710.9 890.6L716.0 886.9L719.7 889.1L724.1 889.9L726.3 892.8L730.7 889.1L731.5 895.0L738.1 887.9L741.0 891.3L747.6 890.9L752.1 894.7L755.0 896.5L760.9 894.7L762.4 892.1L769.0 892.1L773.0 890.6L777.1 889.1L780.0 890.6L784.4 890.3L789.6 888.4L794.0 892.1L800.6 895.7L806.5 897.2L810.1 898.7L813.1 901.6M568.4 790.2L574.9 790.7L581.4 791.2L588.0 791.6L594.5 792.0L601.0 792.4L607.6 792.8L614.1 793.2L620.7 793.6L627.2 793.9L633.7 794.3L640.3 794.6L646.8 794.9L653.4 795.2L653.0 803.7L652.7 812.2L652.3 820.8L652.0 829.3L651.6 837.8L651.3 846.3L650.9 854.9L650.6 863.4M813.1 901.6L818.2 900.1L821.9 900.9L822.4 907.3L822.9 913.6L823.4 920.0M823.4 920.0L823.7 927.4L824.0 934.7L824.3 942.1L824.6 949.4L824.9 956.8L828.1 962.0L831.4 967.2L830.8 972.0L836.2 979.3L839.3 987.7L838.0 996.1L836.2 1000.9L834.4 1005.7L835.0 1010.5L835.6 1015.3L835.3 1020.2L835.0 1025.0L829.6 1033.4L831.2 1037.4M859.4 433.7L855.7 435.9L856.0 441.8L856.2 447.6L855.6 452.8L855.0 457.9L850.6 460.5L846.2 463.1L842.5 471.9L848.4 479.3L846.9 484.8L845.4 490.3L845.8 496.9L846.2 503.5L852.1 510.1L857.2 510.6L860.9 513.8L866.8 516.8L869.7 522.6L873.4 525.3L877.1 527.9L882.9 531.6L885.9 536.8L886.5 541.8L887.1 546.8M754.3 548.8L760.6 548.9L766.9 548.9L773.2 549.0L779.6 549.0L785.9 549.0L792.2 549.0L798.5 548.9L804.9 548.9L811.2 548.8L817.5 548.8L823.8 548.7L830.2 548.5L836.5 548.4L842.8 548.3L849.1 548.1L855.4 547.9L861.8 547.7L868.1 547.5L874.4 547.3L880.7 547.0L887.1 546.8M887.1 546.8L888.1 551.5L891.8 555.1L889.6 560.3L890.3 566.2L893.2 572.1L897.3 573.9L901.3 575.7L904.3 580.6M904.3 580.6L907.9 585.1L911.6 589.7L916.8 593.4L917.9 598.5L914.6 607.4L913.8 612.5L908.7 616.2L902.4 618.0L896.2 619.9L894.4 625.7L898.8 631.6L898.4 637.5L894.7 643.4L894.0 646.3L888.8 649.3L886.2 657.4M773.4 652.9L780.0 652.8L786.5 652.7L793.1 652.6L799.7 652.4L806.3 652.3L812.8 652.1L819.4 651.9L826.0 651.7L832.6 651.4L839.1 651.2L845.7 650.9L852.3 650.6L858.8 650.3L865.4 650.0L872.0 649.6L878.5 649.3L882.3 653.3L886.2 657.4M886.2 657.4L885.7 663.5L886.5 669.4L889.4 677.5L893.1 682.6L899.7 688.5L903.7 692.6L907.8 696.6L909.3 701.8L910.7 706.9L913.7 708.4L916.6 705.9L921.8 708.4L924.7 711.3L922.5 719.4L920.3 726.8L921.0 731.9L926.2 737.1L931.3 740.7L932.8 742.9L935.0 741.8L940.9 746.6L944.6 749.6L946.0 755.4L947.5 759.1L946.5 763.5L949.0 769.4L951.9 772.4L955.7 772.4M955.7 772.4L957.2 775.3L956.5 784.1L952.1 787.1L949.9 790.0M949.9 790.0L946.9 791.5L945.8 796.6L944.7 801.8L942.5 809.4M804.9 796.6L811.7 796.6L818.5 796.5L825.4 796.4L832.2 796.3L839.1 796.1L845.9 796.0L852.7 795.8L859.6 795.6L866.4 795.4L873.3 795.2L880.1 795.0L886.9 794.7L893.8 794.4L900.6 794.1L907.4 793.8L914.3 793.5L921.1 793.2L927.9 792.8L932.4 796.5L931.6 800.1L927.2 805.3L924.3 810.9L930.3 810.4L936.4 809.9L942.5 809.4M942.5 809.4L944.9 812.6L941.9 814.1L940.4 818.5L937.5 820.7L938.2 825.9L934.6 826.6L934.1 830.3L932.4 831.8L931.3 836.9L930.1 842.1L929.1 845.7M929.1 845.7L928.7 850.1L925.0 856.8L923.5 859.0L921.3 859.0L922.1 865.6L919.1 870.0L916.2 872.2L912.5 876.6L911.8 879.6L913.2 881.0L908.1 883.5L908.8 887.6L908.5 893.5L904.7 895.0L904.4 897.9L906.6 903.8L908.8 909.0L907.8 917.5M823.4 920.0L830.4 919.9L837.5 919.8L844.5 919.6L851.5 919.5L858.6 919.3L865.6 919.1L872.6 918.9L879.7 918.6L886.7 918.4L893.7 918.1L900.8 917.8L907.8 917.5M907.8 917.5L908.1 924.4L909.1 929.6L911.5 932.5L910.0 935.4L912.5 939.1L916.9 941.3L914.4 945.0L910.6 945.7L913.2 948.7L908.8 955.3L906.6 960.0L903.0 964.8L899.4 970.8L900.0 978.0L897.6 984.1L897.0 989.5M897.0 989.5L904.2 989.1L911.5 988.7L918.7 988.3L925.9 987.8L933.1 987.4L940.3 986.9L947.5 986.4L954.8 985.9L953.0 992.5L951.2 997.3L956.0 1004.5L959.6 1012.9L962.0 1014.1M902.6 436.9L907.4 442.8L912.5 444.6L917.6 446.5L922.4 447.8L927.2 449.1L932.0 450.3L936.8 451.6L942.3 452.9L947.8 454.2L953.3 455.5L958.8 456.8L961.8 460.4L966.9 464.9L967.4 469.3L967.9 473.7L972.1 475.1L971.3 480.0L973.5 482.5M904.3 580.6L910.3 580.2L916.3 579.9L922.3 579.5L928.3 579.1L934.4 578.7L940.4 578.3L946.4 577.8L952.4 577.4L958.4 576.9L964.4 576.4L970.5 576.0L976.5 575.4M987.5 604.1L988.1 611.3L988.6 618.5L989.2 625.6L989.7 632.8L990.3 640.0L990.9 647.8L991.5 655.7L992.1 663.5L992.7 671.4L993.4 679.2L994.0 687.1L991.8 692.2L994.0 698.8L995.1 703.2L996.2 707.6L991.8 716.5L988.1 725.3L985.1 726.0L986.6 728.2L983.7 737.1L984.4 740.0M984.4 740.0L982.9 745.9L982.2 749.6L984.7 752.5L980.2 754.7L975.6 756.9L973.4 762.1L974.9 767.9L969.7 766.5L965.7 765.7L961.6 765.0L957.2 769.4L955.7 772.4M1005.9 598.2L1012.2 597.7L1018.6 597.2L1024.9 596.7L1031.3 596.2L1037.6 595.6L1043.9 595.0L1050.3 594.4L1056.6 593.8M1056.6 593.8L1057.6 602.3L1058.6 610.8L1059.6 619.2L1060.6 627.7L1061.6 636.2L1062.6 644.7L1063.5 653.1L1064.5 661.6L1065.5 670.1L1066.5 678.6L1067.5 687.1M1067.5 687.1L1068.1 691.8L1068.7 696.6L1063.1 698.8L1058.7 702.5L1052.8 703.2L1052.1 710.6L1046.2 716.5L1042.5 722.4L1041.0 729.0L1037.0 728.6L1032.9 728.2L1030.7 724.6L1027.1 727.5L1025.6 734.1L1022.6 736.3L1018.2 732.6L1012.4 738.5L1010.1 738.2L1005.4 736.9L1000.6 735.6L996.9 736.3L993.2 737.1L988.8 738.5L984.4 740.0M1056.6 593.8L1062.5 593.3L1068.4 592.8L1074.3 592.3L1080.2 591.7L1086.0 591.2L1091.9 590.6M1165.4 570.6L1166.4 578.6L1167.3 586.7L1168.2 594.7L1169.2 602.7L1170.1 610.8L1171.0 618.8M1171.0 618.8L1172.5 624.7L1171.8 633.5L1171.0 639.4L1170.3 645.3L1168.8 651.2L1164.4 658.5L1158.5 664.4L1155.6 665.1L1152.3 669.2L1149.0 673.2L1148.2 679.1L1146.0 683.5L1141.6 682.1L1138.7 687.9L1137.9 696.8L1135.7 701.9L1131.3 703.4M1131.3 703.4L1125.6 698.8L1121.2 692.9L1117.5 695.1L1112.4 698.1L1108.7 697.4L1105.0 696.6L1100.6 699.6L1097.6 695.9L1091.8 696.6L1088.1 695.5L1084.4 694.4L1080.7 689.3L1075.6 686.3L1071.5 686.7L1067.5 687.1M1151.9 732.4L1147.5 730.0L1143.1 727.6L1139.0 723.2L1135.0 718.8L1132.8 714.4L1130.6 710.0L1131.3 703.4M1108.7 771.6L1115.3 769.4L1119.0 767.2L1122.6 765.0L1126.3 761.3L1130.0 757.6L1134.4 751.8L1138.1 748.1L1141.8 744.4L1145.9 740.7L1150.0 737.1L1151.9 732.4M949.9 790.0L956.2 789.7L962.6 789.3L969.0 789.0L975.3 788.6L981.7 788.2L988.1 787.8L988.1 781.9L994.8 781.5L1001.5 781.0L1008.2 780.6L1014.9 780.1L1021.6 779.6L1028.3 779.1L1035.0 778.6L1041.7 778.0L1048.4 777.5L1055.1 776.9L1061.8 776.3L1068.5 775.7L1075.2 775.0L1081.9 774.4L1088.6 773.7L1095.3 773.0L1102.0 772.3L1108.7 771.6M1108.7 771.6L1114.9 770.9L1121.1 770.1L1127.3 769.3L1133.6 768.5L1139.8 767.6L1146.0 766.8L1152.2 765.9L1158.4 765.1L1164.6 764.2M1164.6 764.2L1160.8 773.2L1156.8 782.2L1153.4 784.6L1150.0 787.1L1146.6 788.5L1143.2 790.0L1139.6 792.2L1135.9 794.4L1133.7 798.8L1129.6 801.8L1125.6 804.7L1121.9 806.2L1118.2 807.6L1114.6 809.1L1110.9 810.6L1106.5 816.5L1100.6 823.1L1099.1 829.7M1061.8 834.6L1068.0 833.8L1074.2 833.0L1080.4 832.2L1086.7 831.4L1092.9 830.6L1099.1 829.7M990.4 841.8L996.9 841.2L1003.4 840.6L1009.9 840.0L1016.4 839.4L1022.9 838.7L1029.4 838.1L1035.8 837.4L1042.3 836.7L1048.8 836.0L1055.3 835.3L1061.8 834.6M929.1 845.7L935.9 845.4L942.8 845.0L949.6 844.6L956.4 844.1L963.2 843.7L970.0 843.2L976.8 842.8L983.6 842.3L990.4 841.8M990.4 841.8L990.8 847.1L991.2 852.4L991.1 860.9L991.0 869.5L990.8 878.0L990.7 886.6L990.6 895.2L990.5 903.7L990.3 912.3L990.2 920.8L990.0 929.4L989.9 937.9L989.7 946.5L990.6 954.9L991.4 963.2L992.3 971.6L993.1 980.0L994.0 988.4L994.8 996.8L995.7 1005.1M1061.8 834.6L1064.0 842.8L1066.3 851.0L1068.6 859.1L1070.9 867.3L1073.2 875.5L1075.5 883.7L1077.9 891.9L1080.2 900.0L1082.5 908.2L1086.3 915.1L1090.1 921.9L1089.8 928.4L1089.5 934.8L1089.1 942.0L1088.7 949.2L1091.5 950.0L1092.9 956.6L1092.2 964.7L1093.7 969.1L1095.1 973.5M1023.8 1005.9L1024.6 999.3L1025.3 992.6L1020.9 989.7L1017.9 985.3L1018.7 981.6L1025.6 981.0L1032.6 980.3L1039.6 979.6L1046.5 978.9L1053.5 978.2L1060.4 977.5L1067.4 976.7L1074.3 975.9L1081.3 975.2L1088.2 974.3L1095.1 973.5M1099.1 829.7L1105.6 829.1L1112.1 828.6L1118.6 828.0L1125.1 827.4L1131.6 826.8M1131.6 826.8L1127.2 835.3L1133.1 839.3L1139.0 843.4L1142.6 844.1L1146.3 849.3L1150.0 854.4L1154.4 859.6L1160.3 862.5L1166.9 868.0L1173.5 873.5L1175.7 877.9L1180.5 881.6L1185.3 885.3L1191.2 891.9L1194.1 900.0L1201.5 907.4L1205.1 914.0L1205.9 917.6L1213.2 919.9M1095.1 973.5L1098.1 978.1L1101.0 982.6L1108.3 982.2L1115.6 981.8L1122.9 981.4L1130.2 980.9L1137.5 980.5L1144.7 980.0L1152.0 979.4L1159.3 978.9L1166.6 978.4L1173.9 977.8L1181.2 977.2L1182.6 983.8L1186.3 984.6L1186.0 977.2L1185.6 969.9L1189.3 967.4L1196.2 968.2L1203.2 969.1M1131.6 826.8L1136.8 824.0L1141.9 821.2L1147.1 818.4L1150.7 816.5L1154.4 814.7L1161.5 814.1L1168.5 813.5L1175.6 812.8L1182.6 812.2L1189.7 811.5L1195.6 814.7L1199.3 821.8L1205.6 820.9L1211.9 820.0L1218.2 819.2L1224.6 818.3L1230.9 817.4L1238.5 822.8L1246.1 828.1L1253.7 833.5L1261.4 838.8L1269.1 844.1M1164.6 764.2L1171.3 763.2L1178.0 762.3L1184.7 761.3L1191.4 760.3L1198.1 759.2L1204.8 758.2L1211.4 757.1L1218.1 756.0L1224.8 754.9L1231.5 753.8L1238.1 752.7L1244.8 751.6L1251.5 750.4L1258.1 749.2L1264.8 748.0L1271.4 746.8L1278.1 745.6L1284.7 744.3L1291.4 743.1L1298.0 741.8L1304.7 740.5L1311.3 739.2L1317.9 737.8L1324.6 736.5M1151.9 732.4L1154.1 737.9L1158.5 740.9L1164.7 742.4L1169.6 736.5L1174.0 739.4L1178.0 737.2L1182.1 735.0L1182.8 731.3L1187.9 731.3L1191.6 727.6L1193.1 728.4L1199.0 721.8L1196.8 718.8L1199.3 712.9L1201.9 707.1L1204.5 701.9L1207.1 696.8L1208.2 691.3L1209.3 685.7L1213.7 687.9L1218.1 690.1L1220.7 681.7L1223.2 673.2L1228.4 675.4L1231.0 670.7L1233.5 665.9L1237.9 657.1L1238.7 649.0L1243.8 651.7L1249.0 654.4L1254.1 657.1L1255.3 650.1M1255.3 650.1L1259.3 651.3L1263.2 652.5L1264.4 656.5L1269.3 657.3L1274.9 660.1L1277.3 661.7L1277.3 665.3L1275.7 669.4L1273.3 673.4L1272.9 678.2L1274.5 681.0L1279.7 678.2L1282.1 681.4L1285.3 680.6L1287.7 684.6L1293.3 683.8L1298.9 687.0L1304.9 691.4M1319.0 685.8L1324.6 684.0L1330.2 682.2M1171.0 618.8L1173.0 626.2L1175.1 633.5L1177.1 640.9L1179.1 648.2L1184.6 647.4L1190.0 646.6L1195.4 645.8L1200.9 645.0L1206.3 644.1M1255.3 650.1L1252.9 645.5L1250.4 640.9L1246.8 640.6L1241.6 639.4L1238.2 643.5L1235.0 646.8L1229.1 646.0L1224.7 647.5L1219.6 651.9L1215.9 655.6L1212.8 658.9L1209.7 662.2L1208.6 656.2L1207.5 650.1L1206.3 644.1M1206.3 644.1L1212.8 643.0L1219.3 641.9L1225.8 640.8L1232.3 639.7L1238.7 638.5L1245.2 637.3L1251.7 636.2L1258.1 634.9L1264.6 633.7L1271.1 632.5L1277.5 631.2L1284.0 630.0L1290.4 628.7L1296.9 627.4L1303.3 626.0M1332.6 665.3L1327.0 666.6L1321.4 667.8L1315.8 669.0L1313.7 661.8L1311.6 654.7L1309.5 647.5L1307.5 640.3L1305.4 633.2L1303.3 626.0M1303.3 626.0L1308.2 620.4L1311.8 621.6M1318.1 562.1L1313.3 560.1L1308.0 555.7L1306.4 550.9L1302.0 547.2L1296.0 544.4L1289.9 545.8L1283.7 547.1L1277.5 548.4L1271.3 549.7L1265.2 551.0L1259.0 552.3L1252.8 553.5L1246.6 554.7L1240.4 555.9L1234.2 557.1L1228.0 558.3L1221.8 559.5L1215.6 560.7L1209.4 561.8L1203.2 562.9L1197.0 564.0L1190.8 565.1L1184.6 566.2L1183.1 558.1M1311.8 621.6L1316.5 617.4L1319.3 614.2L1320.9 610.6L1323.9 607.6L1326.9 604.6L1322.1 600.6L1316.9 597.4L1315.7 594.2L1312.5 591.0L1311.7 586.1L1312.9 582.1L1311.3 578.9L1313.3 575.7L1314.1 570.9L1316.5 565.3L1318.1 562.1M1318.1 562.1L1324.2 564.2L1330.3 566.3L1336.4 568.4L1342.5 570.5M1323.5 429.9L1325.0 436.2L1326.5 442.6L1328.3 449.3L1330.1 455.9L1328.7 461.8L1330.5 466.2L1332.4 470.6L1335.3 476.5L1338.2 482.4L1339.7 488.2L1341.3 494.1L1342.8 500.0L1344.4 505.9M1344.4 505.9L1344.6 514.4L1344.7 522.8L1344.8 531.2M1344.8 531.2L1345.5 535.8L1346.1 540.4L1347.4 547.1L1348.7 553.8L1350.0 560.5L1346.1 565.3L1349.0 569.1M1344.8 531.2L1350.9 530.1L1357.1 529.0L1363.2 527.9L1369.3 526.7L1375.5 525.6L1381.6 524.4L1387.7 523.2M1387.7 523.2L1389.3 530.7L1390.9 538.2L1392.5 545.6M1387.7 523.2L1392.7 521.8L1397.8 520.4L1400.0 526.0L1401.4 528.4L1404.2 528.8L1405.4 531.2L1408.2 535.2M1344.4 505.9L1349.1 504.8L1353.8 503.7L1358.6 502.6L1363.3 501.5M1363.3 501.5L1369.2 500.4L1375.1 499.3L1381.1 498.2L1387.0 497.1L1392.9 495.9L1396.2 492.7L1399.4 489.5L1403.0 486.4L1404.2 485.9M1367.3 418.2L1366.2 427.3L1368.9 431.6L1368.3 435.8L1366.0 439.6L1363.7 443.3L1362.5 449.2L1361.3 455.0L1360.9 463.8L1358.8 472.6L1359.5 477.1L1360.1 481.5L1360.9 485.9L1361.7 490.3L1360.5 495.1L1363.3 501.5M1374.2 405.3L1376.9 413.6L1379.6 421.9L1382.4 430.2L1385.1 438.4L1387.8 446.7L1390.5 455.0L1392.9 463.0L1395.3 471.0L1400.2 473.8L1401.8 477.9L1404.2 479.1"/><path fill="none" stroke="#23488a" stroke-width="0.6" d="M751.7 1087.1L744.5 1091.0L740.3 1094.3L736.1 1097.6L730.1 1104.8L725.9 1112.0L724.4 1116.6L722.9 1121.1L721.7 1129.5L722.0 1134.9L722.3 1140.3L724.1 1147.5L726.5 1153.3"/><path fill="none" stroke="#fff" stroke-width="2.4" stroke-linejoin="round" stroke-linecap="round" d="M1282.1 681.4L1285.3 680.6L1287.7 684.6L1293.3 683.8L1298.9 687.0L1304.9 691.4"/><path fill="none" stroke="#fff" stroke-width="1" stroke-linecap="round" d="M1287.7 692.6L1292.9 696.6L1298.1 700.6L1304.9 704.8"/><path id="DC" fill="#ec6f4c" d="M1274.7 660.9L1277.0 658.8L1279.8 660.7L1277.6 663.9Z"/>
</svg>

<div id="note" class="abs">The Washington, D.C. average was 6.26%.</div>
<div id="byline" class="abs">Map: Investopedia / Sabrina Karl • Source: Zillow Mortgage API</div>

<svg id="logo" width="1500" height="1346" viewBox="0 0 1500 1346">
  <defs>
    <pattern id="dots" width="2" height="2" patternUnits="userSpaceOnUse"><rect width="2" height="2" fill="#35363c"/><circle cx="1" cy="1" r="0.66" fill="#1b4da3"/></pattern>
    <clipPath id="lc"><circle cx="1233.7" cy="1289.6" r="16.4"/></clipPath>
  </defs>
  <circle cx="1233.7" cy="1289.6" r="16.4" fill="url(#dots)"/>
  <g clip-path="url(#lc)">
    <path d="M1215.5 1295.2 L1232.8 1284.9 L1236.3 1287.6 L1235.2 1296.0 L1252 1287.5 L1252 1290.9 L1233.1 1302.4 L1230.3 1299.8 L1231.6 1289.9 L1216.5 1298.9 Z" fill="#fff"/>
  </g>
  <rect x="1232.3" y="1278.9" width="4.6" height="4.4" rx="1.2" fill="#f26b3c"/>
  <text id="logotext" x="1255.8" y="1304.8" font-family="Liberation Sans, sans-serif" font-size="39.5" fill="#111" stroke="#111" stroke-width="0.3" textLength="221.5" lengthAdjust="spacingAndGlyphs">Investopedia</text>
</svg>
</body>
</html>
